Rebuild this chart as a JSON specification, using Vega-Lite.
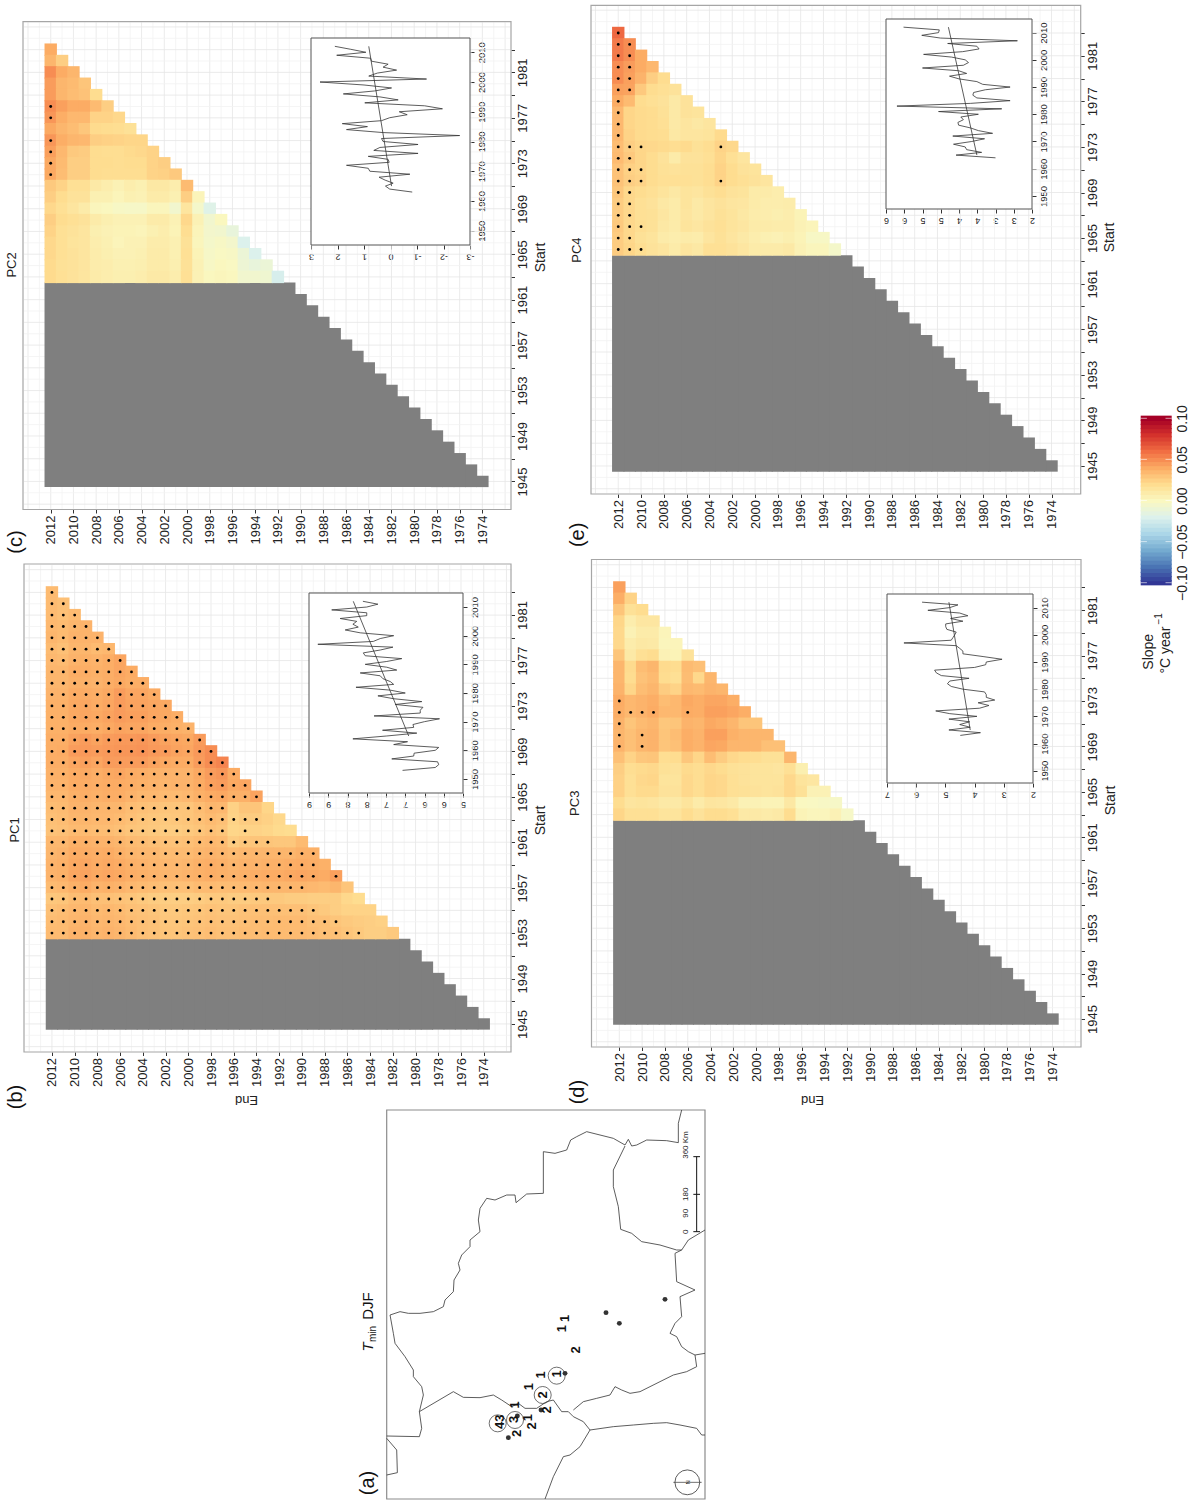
{"$schema":"https://vega.github.io/schema/vega-lite/v6.json","width":1195,"height":1503,"padding":0,"autosize":{"type":"none"},"background":"white",
"config":{"view":{"stroke":null},"font":"Liberation Sans","axis":{"grid":false,"domain":false,"tickColor":"#333333","labelColor":"#222222","titleColor":"#222222","titleFontWeight":"normal","labelFont":"Liberation Sans","titleFont":"Liberation Sans","labelOverlap":false,"labelFlush":false}},
"datasets":{
"gray":[{"e":1974,"s":1944.5,"t1":1945.5,"t2":1945.5,"t4":1945.5},{"e":1975,"s":1944.5,"t1":1946.5,"t2":1946.5,"t4":1946.5},{"e":1976,"s":1944.5,"t1":1947.5,"t2":1947.5,"t4":1947.5},{"e":1977,"s":1944.5,"t1":1948.5,"t2":1948.5,"t4":1948.5},{"e":1978,"s":1944.5,"t1":1949.5,"t2":1949.5,"t4":1949.5},{"e":1979,"s":1944.5,"t1":1950.5,"t2":1950.5,"t4":1950.5},{"e":1980,"s":1944.5,"t1":1951.5,"t2":1951.5,"t4":1951.5},{"e":1981,"s":1944.5,"t1":1952.5,"t2":1952.5,"t4":1952.5},{"e":1982,"s":1944.5,"t1":1952.5,"t2":1953.5,"t4":1953.5},{"e":1983,"s":1944.5,"t1":1952.5,"t2":1954.5,"t4":1954.5},{"e":1984,"s":1944.5,"t1":1952.5,"t2":1955.5,"t4":1955.5},{"e":1985,"s":1944.5,"t1":1952.5,"t2":1956.5,"t4":1956.5},{"e":1986,"s":1944.5,"t1":1952.5,"t2":1957.5,"t4":1957.5},{"e":1987,"s":1944.5,"t1":1952.5,"t2":1958.5,"t4":1958.5},{"e":1988,"s":1944.5,"t1":1952.5,"t2":1959.5,"t4":1959.5},{"e":1989,"s":1944.5,"t1":1952.5,"t2":1960.5,"t4":1960.5},{"e":1990,"s":1944.5,"t1":1952.5,"t2":1961.5,"t4":1961.5},{"e":1991,"s":1944.5,"t1":1952.5,"t2":1962.5,"t4":1962.5},{"e":1992,"s":1944.5,"t1":1952.5,"t2":1962.5,"t4":1963.5},{"e":1993,"s":1944.5,"t1":1952.5,"t2":1962.5,"t4":1963.5},{"e":1994,"s":1944.5,"t1":1952.5,"t2":1962.5,"t4":1963.5},{"e":1995,"s":1944.5,"t1":1952.5,"t2":1962.5,"t4":1963.5},{"e":1996,"s":1944.5,"t1":1952.5,"t2":1962.5,"t4":1963.5},{"e":1997,"s":1944.5,"t1":1952.5,"t2":1962.5,"t4":1963.5},{"e":1998,"s":1944.5,"t1":1952.5,"t2":1962.5,"t4":1963.5},{"e":1999,"s":1944.5,"t1":1952.5,"t2":1962.5,"t4":1963.5},{"e":2000,"s":1944.5,"t1":1952.5,"t2":1962.5,"t4":1963.5},{"e":2001,"s":1944.5,"t1":1952.5,"t2":1962.5,"t4":1963.5},{"e":2002,"s":1944.5,"t1":1952.5,"t2":1962.5,"t4":1963.5},{"e":2003,"s":1944.5,"t1":1952.5,"t2":1962.5,"t4":1963.5},{"e":2004,"s":1944.5,"t1":1952.5,"t2":1962.5,"t4":1963.5},{"e":2005,"s":1944.5,"t1":1952.5,"t2":1962.5,"t4":1963.5},{"e":2006,"s":1944.5,"t1":1952.5,"t2":1962.5,"t4":1963.5},{"e":2007,"s":1944.5,"t1":1952.5,"t2":1962.5,"t4":1963.5},{"e":2008,"s":1944.5,"t1":1952.5,"t2":1962.5,"t4":1963.5},{"e":2009,"s":1944.5,"t1":1952.5,"t2":1962.5,"t4":1963.5},{"e":2010,"s":1944.5,"t1":1952.5,"t2":1962.5,"t4":1963.5},{"e":2011,"s":1944.5,"t1":1952.5,"t2":1962.5,"t4":1963.5},{"e":2012,"s":1944.5,"t1":1952.5,"t2":1962.5,"t4":1963.5}],
"gv":[{"e":1972,"s":1942.6,"s2":1985.4,"m":1},{"e":1973,"s":1942.6,"s2":1985.4,"m":0},{"e":1974,"s":1942.6,"s2":1985.4,"m":1},{"e":1975,"s":1942.6,"s2":1985.4,"m":0},{"e":1976,"s":1942.6,"s2":1985.4,"m":1},{"e":1977,"s":1942.6,"s2":1985.4,"m":0},{"e":1978,"s":1942.6,"s2":1985.4,"m":1},{"e":1979,"s":1942.6,"s2":1985.4,"m":0},{"e":1980,"s":1942.6,"s2":1985.4,"m":1},{"e":1981,"s":1942.6,"s2":1985.4,"m":0},{"e":1982,"s":1942.6,"s2":1985.4,"m":1},{"e":1983,"s":1942.6,"s2":1985.4,"m":0},{"e":1984,"s":1942.6,"s2":1985.4,"m":1},{"e":1985,"s":1942.6,"s2":1985.4,"m":0},{"e":1986,"s":1942.6,"s2":1985.4,"m":1},{"e":1987,"s":1942.6,"s2":1985.4,"m":0},{"e":1988,"s":1942.6,"s2":1985.4,"m":1},{"e":1989,"s":1942.6,"s2":1985.4,"m":0},{"e":1990,"s":1942.6,"s2":1985.4,"m":1},{"e":1991,"s":1942.6,"s2":1985.4,"m":0},{"e":1992,"s":1942.6,"s2":1985.4,"m":1},{"e":1993,"s":1942.6,"s2":1985.4,"m":0},{"e":1994,"s":1942.6,"s2":1985.4,"m":1},{"e":1995,"s":1942.6,"s2":1985.4,"m":0},{"e":1996,"s":1942.6,"s2":1985.4,"m":1},{"e":1997,"s":1942.6,"s2":1985.4,"m":0},{"e":1998,"s":1942.6,"s2":1985.4,"m":1},{"e":1999,"s":1942.6,"s2":1985.4,"m":0},{"e":2000,"s":1942.6,"s2":1985.4,"m":1},{"e":2001,"s":1942.6,"s2":1985.4,"m":0},{"e":2002,"s":1942.6,"s2":1985.4,"m":1},{"e":2003,"s":1942.6,"s2":1985.4,"m":0},{"e":2004,"s":1942.6,"s2":1985.4,"m":1},{"e":2005,"s":1942.6,"s2":1985.4,"m":0},{"e":2006,"s":1942.6,"s2":1985.4,"m":1},{"e":2007,"s":1942.6,"s2":1985.4,"m":0},{"e":2008,"s":1942.6,"s2":1985.4,"m":1},{"e":2009,"s":1942.6,"s2":1985.4,"m":0},{"e":2010,"s":1942.6,"s2":1985.4,"m":1},{"e":2011,"s":1942.6,"s2":1985.4,"m":0},{"e":2012,"s":1942.6,"s2":1985.4,"m":1},{"e":2013,"s":1942.6,"s2":1985.4,"m":0},{"e":2014,"s":1942.6,"s2":1985.4,"m":1}],
"gh":[{"s":1943,"e":2014.35,"e2":1971.55,"m":1},{"s":1944,"e":2014.35,"e2":1971.55,"m":0},{"s":1945,"e":2014.35,"e2":1971.55,"m":1},{"s":1946,"e":2014.35,"e2":1971.55,"m":0},{"s":1947,"e":2014.35,"e2":1971.55,"m":1},{"s":1948,"e":2014.35,"e2":1971.55,"m":0},{"s":1949,"e":2014.35,"e2":1971.55,"m":1},{"s":1950,"e":2014.35,"e2":1971.55,"m":0},{"s":1951,"e":2014.35,"e2":1971.55,"m":1},{"s":1952,"e":2014.35,"e2":1971.55,"m":0},{"s":1953,"e":2014.35,"e2":1971.55,"m":1},{"s":1954,"e":2014.35,"e2":1971.55,"m":0},{"s":1955,"e":2014.35,"e2":1971.55,"m":1},{"s":1956,"e":2014.35,"e2":1971.55,"m":0},{"s":1957,"e":2014.35,"e2":1971.55,"m":1},{"s":1958,"e":2014.35,"e2":1971.55,"m":0},{"s":1959,"e":2014.35,"e2":1971.55,"m":1},{"s":1960,"e":2014.35,"e2":1971.55,"m":0},{"s":1961,"e":2014.35,"e2":1971.55,"m":1},{"s":1962,"e":2014.35,"e2":1971.55,"m":0},{"s":1963,"e":2014.35,"e2":1971.55,"m":1},{"s":1964,"e":2014.35,"e2":1971.55,"m":0},{"s":1965,"e":2014.35,"e2":1971.55,"m":1},{"s":1966,"e":2014.35,"e2":1971.55,"m":0},{"s":1967,"e":2014.35,"e2":1971.55,"m":1},{"s":1968,"e":2014.35,"e2":1971.55,"m":0},{"s":1969,"e":2014.35,"e2":1971.55,"m":1},{"s":1970,"e":2014.35,"e2":1971.55,"m":0},{"s":1971,"e":2014.35,"e2":1971.55,"m":1},{"s":1972,"e":2014.35,"e2":1971.55,"m":0},{"s":1973,"e":2014.35,"e2":1971.55,"m":1},{"s":1974,"e":2014.35,"e2":1971.55,"m":0},{"s":1975,"e":2014.35,"e2":1971.55,"m":1},{"s":1976,"e":2014.35,"e2":1971.55,"m":0},{"s":1977,"e":2014.35,"e2":1971.55,"m":1},{"s":1978,"e":2014.35,"e2":1971.55,"m":0},{"s":1979,"e":2014.35,"e2":1971.55,"m":1},{"s":1980,"e":2014.35,"e2":1971.55,"m":0},{"s":1981,"e":2014.35,"e2":1971.55,"m":1},{"s":1982,"e":2014.35,"e2":1971.55,"m":0},{"s":1983,"e":2014.35,"e2":1971.55,"m":1},{"s":1984,"e":2014.35,"e2":1971.55,"m":0},{"s":1985,"e":2014.35,"e2":1971.55,"m":1}],
"pc1":[
{"s":1983,"e":2012,"v":0.034},
{"s":1982,"e":2012,"v":0.034},{"s":1982,"e":2011,"v":0.032},
{"s":1981,"e":2012,"v":0.034},{"s":1981,"e":2011,"v":0.032},{"s":1981,"e":2010,"v":0.034},
{"s":1980,"e":2012,"v":0.035},{"s":1980,"e":2011,"v":0.034},{"s":1980,"e":2010,"v":0.036},{"s":1980,"e":2009,"v":0.037},
{"s":1979,"e":2012,"v":0.036},{"s":1979,"e":2011,"v":0.034},{"s":1979,"e":2010,"v":0.037},{"s":1979,"e":2009,"v":0.037},{"s":1979,"e":2008,"v":0.037},
{"s":1978,"e":2012,"v":0.034},{"s":1978,"e":2011,"v":0.032},{"s":1978,"e":2010,"v":0.036},{"s":1978,"e":2009,"v":0.036},{"s":1978,"e":2008,"v":0.034},{"s":1978,"e":2007,"v":0.035},
{"s":1977,"e":2012,"v":0.035},{"s":1977,"e":2011,"v":0.034},{"s":1977,"e":2010,"v":0.037},{"s":1977,"e":2009,"v":0.038},{"s":1977,"e":2008,"v":0.037},{"s":1977,"e":2007,"v":0.039},{"s":1977,"e":2006,"v":0.042},
{"s":1976,"e":2012,"v":0.036},{"s":1976,"e":2011,"v":0.036},{"s":1976,"e":2010,"v":0.039},{"s":1976,"e":2009,"v":0.039},{"s":1976,"e":2008,"v":0.038},{"s":1976,"e":2007,"v":0.039},{"s":1976,"e":2006,"v":0.042},{"s":1976,"e":2005,"v":0.04},
{"s":1975,"e":2012,"v":0.036},{"s":1975,"e":2011,"v":0.036},{"s":1975,"e":2010,"v":0.038},{"s":1975,"e":2009,"v":0.038},{"s":1975,"e":2008,"v":0.037},{"s":1975,"e":2007,"v":0.039},{"s":1975,"e":2006,"v":0.041},{"s":1975,"e":2005,"v":0.039},{"s":1975,"e":2004,"v":0.039},
{"s":1974,"e":2012,"v":0.037},{"s":1974,"e":2011,"v":0.037},{"s":1974,"e":2010,"v":0.04},{"s":1974,"e":2009,"v":0.04},{"s":1974,"e":2008,"v":0.039},{"s":1974,"e":2007,"v":0.041},{"s":1974,"e":2006,"v":0.045},{"s":1974,"e":2005,"v":0.042},{"s":1974,"e":2004,"v":0.042},{"s":1974,"e":2003,"v":0.04},
{"s":1973,"e":2012,"v":0.038},{"s":1973,"e":2011,"v":0.038},{"s":1973,"e":2010,"v":0.041},{"s":1973,"e":2009,"v":0.042},{"s":1973,"e":2008,"v":0.04},{"s":1973,"e":2007,"v":0.042},{"s":1973,"e":2006,"v":0.045},{"s":1973,"e":2005,"v":0.043},{"s":1973,"e":2004,"v":0.043},{"s":1973,"e":2003,"v":0.042},{"s":1973,"e":2002,"v":0.041},
{"s":1972,"e":2012,"v":0.038},{"s":1972,"e":2011,"v":0.038},{"s":1972,"e":2010,"v":0.041},{"s":1972,"e":2009,"v":0.042},{"s":1972,"e":2008,"v":0.041},{"s":1972,"e":2007,"v":0.043},{"s":1972,"e":2006,"v":0.045},{"s":1972,"e":2005,"v":0.044},{"s":1972,"e":2004,"v":0.044},{"s":1972,"e":2003,"v":0.042},{"s":1972,"e":2002,"v":0.041},{"s":1972,"e":2001,"v":0.039},
{"s":1971,"e":2012,"v":0.038},{"s":1971,"e":2011,"v":0.038},{"s":1971,"e":2010,"v":0.04},{"s":1971,"e":2009,"v":0.04},{"s":1971,"e":2008,"v":0.039},{"s":1971,"e":2007,"v":0.041},{"s":1971,"e":2006,"v":0.043},{"s":1971,"e":2005,"v":0.042},{"s":1971,"e":2004,"v":0.042},{"s":1971,"e":2003,"v":0.04},{"s":1971,"e":2002,"v":0.039},{"s":1971,"e":2001,"v":0.038},{"s":1971,"e":2000,"v":0.037},
{"s":1970,"e":2012,"v":0.039},{"s":1970,"e":2011,"v":0.039},{"s":1970,"e":2010,"v":0.043},{"s":1970,"e":2009,"v":0.045},{"s":1970,"e":2008,"v":0.043},{"s":1970,"e":2007,"v":0.045},{"s":1970,"e":2006,"v":0.046},{"s":1970,"e":2005,"v":0.046},{"s":1970,"e":2004,"v":0.047},{"s":1970,"e":2003,"v":0.045},{"s":1970,"e":2002,"v":0.043},{"s":1970,"e":2001,"v":0.042},{"s":1970,"e":2000,"v":0.041},{"s":1970,"e":1999,"v":0.045},
{"s":1969,"e":2012,"v":0.039},{"s":1969,"e":2011,"v":0.04},{"s":1969,"e":2010,"v":0.045},{"s":1969,"e":2009,"v":0.046},{"s":1969,"e":2008,"v":0.045},{"s":1969,"e":2007,"v":0.046},{"s":1969,"e":2006,"v":0.047},{"s":1969,"e":2005,"v":0.047},{"s":1969,"e":2004,"v":0.048},{"s":1969,"e":2003,"v":0.046},{"s":1969,"e":2002,"v":0.045},{"s":1969,"e":2001,"v":0.043},{"s":1969,"e":2000,"v":0.042},{"s":1969,"e":1999,"v":0.046},{"s":1969,"e":1998,"v":0.05},
{"s":1968,"e":2012,"v":0.039},{"s":1968,"e":2011,"v":0.039},{"s":1968,"e":2010,"v":0.042},{"s":1968,"e":2009,"v":0.044},{"s":1968,"e":2008,"v":0.042},{"s":1968,"e":2007,"v":0.045},{"s":1968,"e":2006,"v":0.045},{"s":1968,"e":2005,"v":0.045},{"s":1968,"e":2004,"v":0.045},{"s":1968,"e":2003,"v":0.043},{"s":1968,"e":2002,"v":0.041},{"s":1968,"e":2001,"v":0.04},{"s":1968,"e":2000,"v":0.04},{"s":1968,"e":1999,"v":0.045},{"s":1968,"e":1998,"v":0.05},{"s":1968,"e":1997,"v":0.053},
{"s":1967,"e":2012,"v":0.038},{"s":1967,"e":2011,"v":0.038},{"s":1967,"e":2010,"v":0.04},{"s":1967,"e":2009,"v":0.041},{"s":1967,"e":2008,"v":0.039},{"s":1967,"e":2007,"v":0.041},{"s":1967,"e":2006,"v":0.042},{"s":1967,"e":2005,"v":0.04},{"s":1967,"e":2004,"v":0.039},{"s":1967,"e":2003,"v":0.038},{"s":1967,"e":2002,"v":0.037},{"s":1967,"e":2001,"v":0.037},{"s":1967,"e":2000,"v":0.037},{"s":1967,"e":1999,"v":0.041},{"s":1967,"e":1998,"v":0.045},{"s":1967,"e":1997,"v":0.047},{"s":1967,"e":1996,"v":0.04},
{"s":1966,"e":2012,"v":0.037},{"s":1966,"e":2011,"v":0.037},{"s":1966,"e":2010,"v":0.04},{"s":1966,"e":2009,"v":0.04},{"s":1966,"e":2008,"v":0.039},{"s":1966,"e":2007,"v":0.04},{"s":1966,"e":2006,"v":0.04},{"s":1966,"e":2005,"v":0.039},{"s":1966,"e":2004,"v":0.038},{"s":1966,"e":2003,"v":0.037},{"s":1966,"e":2002,"v":0.036},{"s":1966,"e":2001,"v":0.037},{"s":1966,"e":2000,"v":0.037},{"s":1966,"e":1999,"v":0.04},{"s":1966,"e":1998,"v":0.044},{"s":1966,"e":1997,"v":0.045},{"s":1966,"e":1996,"v":0.041},{"s":1966,"e":1995,"v":0.042},
{"s":1965,"e":2012,"v":0.035},{"s":1965,"e":2011,"v":0.035},{"s":1965,"e":2010,"v":0.038},{"s":1965,"e":2009,"v":0.039},{"s":1965,"e":2008,"v":0.038},{"s":1965,"e":2007,"v":0.039},{"s":1965,"e":2006,"v":0.039},{"s":1965,"e":2005,"v":0.037},{"s":1965,"e":2004,"v":0.035},{"s":1965,"e":2003,"v":0.035},{"s":1965,"e":2002,"v":0.034},{"s":1965,"e":2001,"v":0.034},{"s":1965,"e":2000,"v":0.035},{"s":1965,"e":1999,"v":0.038},{"s":1965,"e":1998,"v":0.04},{"s":1965,"e":1997,"v":0.041},{"s":1965,"e":1996,"v":0.038},{"s":1965,"e":1995,"v":0.038},{"s":1965,"e":1994,"v":0.043},
{"s":1964,"e":2012,"v":0.033},{"s":1964,"e":2011,"v":0.034},{"s":1964,"e":2010,"v":0.037},{"s":1964,"e":2009,"v":0.037},{"s":1964,"e":2008,"v":0.036},{"s":1964,"e":2007,"v":0.036},{"s":1964,"e":2006,"v":0.036},{"s":1964,"e":2005,"v":0.033},{"s":1964,"e":2004,"v":0.032},{"s":1964,"e":2003,"v":0.031},{"s":1964,"e":2002,"v":0.03},{"s":1964,"e":2001,"v":0.03},{"s":1964,"e":2000,"v":0.03},{"s":1964,"e":1999,"v":0.033},{"s":1964,"e":1998,"v":0.036},{"s":1964,"e":1997,"v":0.035},{"s":1964,"e":1996,"v":0.025,"ns":1},{"s":1964,"e":1995,"v":0.03,"ns":1},{"s":1964,"e":1994,"v":0.03,"ns":1},{"s":1964,"e":1993,"v":0.023,"ns":1},
{"s":1963,"e":2012,"v":0.032},{"s":1963,"e":2011,"v":0.033},{"s":1963,"e":2010,"v":0.036},{"s":1963,"e":2009,"v":0.036},{"s":1963,"e":2008,"v":0.035},{"s":1963,"e":2007,"v":0.035},{"s":1963,"e":2006,"v":0.034},{"s":1963,"e":2005,"v":0.032},{"s":1963,"e":2004,"v":0.03},{"s":1963,"e":2003,"v":0.029},{"s":1963,"e":2002,"v":0.028},{"s":1963,"e":2001,"v":0.029},{"s":1963,"e":2000,"v":0.03},{"s":1963,"e":1999,"v":0.032},{"s":1963,"e":1998,"v":0.034},{"s":1963,"e":1997,"v":0.032},{"s":1963,"e":1996,"v":0.024},{"s":1963,"e":1995,"v":0.027},{"s":1963,"e":1994,"v":0.027},{"s":1963,"e":1993,"v":0.025,"ns":1},{"s":1963,"e":1992,"v":0.022,"ns":1},
{"s":1962,"e":2012,"v":0.031},{"s":1962,"e":2011,"v":0.032},{"s":1962,"e":2010,"v":0.034},{"s":1962,"e":2009,"v":0.034},{"s":1962,"e":2008,"v":0.033},{"s":1962,"e":2007,"v":0.033},{"s":1962,"e":2006,"v":0.032},{"s":1962,"e":2005,"v":0.03},{"s":1962,"e":2004,"v":0.029},{"s":1962,"e":2003,"v":0.028},{"s":1962,"e":2002,"v":0.027},{"s":1962,"e":2001,"v":0.027},{"s":1962,"e":2000,"v":0.028},{"s":1962,"e":1999,"v":0.03},{"s":1962,"e":1998,"v":0.032},{"s":1962,"e":1997,"v":0.03},{"s":1962,"e":1996,"v":0.023,"ns":1},{"s":1962,"e":1995,"v":0.024},{"s":1962,"e":1994,"v":0.024,"ns":1},{"s":1962,"e":1993,"v":0.023,"ns":1},{"s":1962,"e":1992,"v":0.021,"ns":1},{"s":1962,"e":1991,"v":0.02,"ns":1},
{"s":1961,"e":2012,"v":0.035},{"s":1961,"e":2011,"v":0.035},{"s":1961,"e":2010,"v":0.038},{"s":1961,"e":2009,"v":0.038},{"s":1961,"e":2008,"v":0.037},{"s":1961,"e":2007,"v":0.037},{"s":1961,"e":2006,"v":0.036},{"s":1961,"e":2005,"v":0.034},{"s":1961,"e":2004,"v":0.033},{"s":1961,"e":2003,"v":0.032},{"s":1961,"e":2002,"v":0.031},{"s":1961,"e":2001,"v":0.031},{"s":1961,"e":2000,"v":0.032},{"s":1961,"e":1999,"v":0.034},{"s":1961,"e":1998,"v":0.035},{"s":1961,"e":1997,"v":0.034},{"s":1961,"e":1996,"v":0.027},{"s":1961,"e":1995,"v":0.029},{"s":1961,"e":1994,"v":0.03},{"s":1961,"e":1993,"v":0.03},{"s":1961,"e":1992,"v":0.029,"ns":1},{"s":1961,"e":1991,"v":0.029,"ns":1},{"s":1961,"e":1990,"v":0.034,"ns":1},
{"s":1960,"e":2012,"v":0.036},{"s":1960,"e":2011,"v":0.037},{"s":1960,"e":2010,"v":0.04},{"s":1960,"e":2009,"v":0.04},{"s":1960,"e":2008,"v":0.039},{"s":1960,"e":2007,"v":0.04},{"s":1960,"e":2006,"v":0.038},{"s":1960,"e":2005,"v":0.036},{"s":1960,"e":2004,"v":0.035},{"s":1960,"e":2003,"v":0.035},{"s":1960,"e":2002,"v":0.033},{"s":1960,"e":2001,"v":0.034},{"s":1960,"e":2000,"v":0.034},{"s":1960,"e":1999,"v":0.036},{"s":1960,"e":1998,"v":0.037},{"s":1960,"e":1997,"v":0.036},{"s":1960,"e":1996,"v":0.034},{"s":1960,"e":1995,"v":0.035},{"s":1960,"e":1994,"v":0.036},{"s":1960,"e":1993,"v":0.036},{"s":1960,"e":1992,"v":0.036},{"s":1960,"e":1991,"v":0.036},{"s":1960,"e":1990,"v":0.038},{"s":1960,"e":1989,"v":0.038},
{"s":1959,"e":2012,"v":0.037},{"s":1959,"e":2011,"v":0.038},{"s":1959,"e":2010,"v":0.041},{"s":1959,"e":2009,"v":0.042},{"s":1959,"e":2008,"v":0.04},{"s":1959,"e":2007,"v":0.041},{"s":1959,"e":2006,"v":0.04},{"s":1959,"e":2005,"v":0.038},{"s":1959,"e":2004,"v":0.037},{"s":1959,"e":2003,"v":0.036},{"s":1959,"e":2002,"v":0.035},{"s":1959,"e":2001,"v":0.035},{"s":1959,"e":2000,"v":0.036},{"s":1959,"e":1999,"v":0.038},{"s":1959,"e":1998,"v":0.039},{"s":1959,"e":1997,"v":0.038},{"s":1959,"e":1996,"v":0.036},{"s":1959,"e":1995,"v":0.037},{"s":1959,"e":1994,"v":0.037},{"s":1959,"e":1993,"v":0.038},{"s":1959,"e":1992,"v":0.038},{"s":1959,"e":1991,"v":0.039},{"s":1959,"e":1990,"v":0.04},{"s":1959,"e":1989,"v":0.039},{"s":1959,"e":1988,"v":0.038,"ns":1},
{"s":1958,"e":2012,"v":0.037},{"s":1958,"e":2011,"v":0.038},{"s":1958,"e":2010,"v":0.042},{"s":1958,"e":2009,"v":0.043},{"s":1958,"e":2008,"v":0.041},{"s":1958,"e":2007,"v":0.042},{"s":1958,"e":2006,"v":0.041},{"s":1958,"e":2005,"v":0.039},{"s":1958,"e":2004,"v":0.038},{"s":1958,"e":2003,"v":0.037},{"s":1958,"e":2002,"v":0.036},{"s":1958,"e":2001,"v":0.036},{"s":1958,"e":2000,"v":0.037},{"s":1958,"e":1999,"v":0.038},{"s":1958,"e":1998,"v":0.039},{"s":1958,"e":1997,"v":0.038},{"s":1958,"e":1996,"v":0.037},{"s":1958,"e":1995,"v":0.038},{"s":1958,"e":1994,"v":0.039},{"s":1958,"e":1993,"v":0.04},{"s":1958,"e":1992,"v":0.04},{"s":1958,"e":1991,"v":0.041},{"s":1958,"e":1990,"v":0.042},{"s":1958,"e":1989,"v":0.041},{"s":1958,"e":1988,"v":0.04,"ns":1},{"s":1958,"e":1987,"v":0.044},
{"s":1957,"e":2012,"v":0.034},{"s":1957,"e":2011,"v":0.035},{"s":1957,"e":2010,"v":0.038},{"s":1957,"e":2009,"v":0.04},{"s":1957,"e":2008,"v":0.037},{"s":1957,"e":2007,"v":0.038},{"s":1957,"e":2006,"v":0.037},{"s":1957,"e":2005,"v":0.035},{"s":1957,"e":2004,"v":0.034},{"s":1957,"e":2003,"v":0.033},{"s":1957,"e":2002,"v":0.032},{"s":1957,"e":2001,"v":0.032},{"s":1957,"e":2000,"v":0.032},{"s":1957,"e":1999,"v":0.034},{"s":1957,"e":1998,"v":0.034},{"s":1957,"e":1997,"v":0.033},{"s":1957,"e":1996,"v":0.033},{"s":1957,"e":1995,"v":0.034},{"s":1957,"e":1994,"v":0.035},{"s":1957,"e":1993,"v":0.036},{"s":1957,"e":1992,"v":0.036},{"s":1957,"e":1991,"v":0.036},{"s":1957,"e":1990,"v":0.036},{"s":1957,"e":1989,"v":0.035,"ns":1},{"s":1957,"e":1988,"v":0.034,"ns":1},{"s":1957,"e":1987,"v":0.036,"ns":1},{"s":1957,"e":1986,"v":0.03,"ns":1},
{"s":1956,"e":2012,"v":0.029},{"s":1956,"e":2011,"v":0.03},{"s":1956,"e":2010,"v":0.033},{"s":1956,"e":2009,"v":0.034},{"s":1956,"e":2008,"v":0.032},{"s":1956,"e":2007,"v":0.032},{"s":1956,"e":2006,"v":0.031},{"s":1956,"e":2005,"v":0.03},{"s":1956,"e":2004,"v":0.028},{"s":1956,"e":2003,"v":0.027},{"s":1956,"e":2002,"v":0.026},{"s":1956,"e":2001,"v":0.026},{"s":1956,"e":2000,"v":0.026},{"s":1956,"e":1999,"v":0.027},{"s":1956,"e":1998,"v":0.028},{"s":1956,"e":1997,"v":0.028},{"s":1956,"e":1996,"v":0.027},{"s":1956,"e":1995,"v":0.027},{"s":1956,"e":1994,"v":0.028},{"s":1956,"e":1993,"v":0.028},{"s":1956,"e":1992,"v":0.028,"ns":1},{"s":1956,"e":1991,"v":0.027,"ns":1},{"s":1956,"e":1990,"v":0.027,"ns":1},{"s":1956,"e":1989,"v":0.026,"ns":1},{"s":1956,"e":1988,"v":0.026,"ns":1},{"s":1956,"e":1987,"v":0.026,"ns":1},{"s":1956,"e":1986,"v":0.022,"ns":1},{"s":1956,"e":1985,"v":0.02,"ns":1},
{"s":1955,"e":2012,"v":0.032},{"s":1955,"e":2011,"v":0.033},{"s":1955,"e":2010,"v":0.035},{"s":1955,"e":2009,"v":0.036},{"s":1955,"e":2008,"v":0.034},{"s":1955,"e":2007,"v":0.035},{"s":1955,"e":2006,"v":0.034},{"s":1955,"e":2005,"v":0.032},{"s":1955,"e":2004,"v":0.031},{"s":1955,"e":2003,"v":0.03},{"s":1955,"e":2002,"v":0.028},{"s":1955,"e":2001,"v":0.028},{"s":1955,"e":2000,"v":0.029},{"s":1955,"e":1999,"v":0.03},{"s":1955,"e":1998,"v":0.031},{"s":1955,"e":1997,"v":0.03},{"s":1955,"e":1996,"v":0.03},{"s":1955,"e":1995,"v":0.031},{"s":1955,"e":1994,"v":0.032},{"s":1955,"e":1993,"v":0.032},{"s":1955,"e":1992,"v":0.032},{"s":1955,"e":1991,"v":0.032},{"s":1955,"e":1990,"v":0.032},{"s":1955,"e":1989,"v":0.03},{"s":1955,"e":1988,"v":0.028,"ns":1},{"s":1955,"e":1987,"v":0.026,"ns":1},{"s":1955,"e":1986,"v":0.024,"ns":1},{"s":1955,"e":1985,"v":0.024,"ns":1},{"s":1955,"e":1984,"v":0.024,"ns":1},
{"s":1954,"e":2012,"v":0.033},{"s":1954,"e":2011,"v":0.034},{"s":1954,"e":2010,"v":0.036},{"s":1954,"e":2009,"v":0.037},{"s":1954,"e":2008,"v":0.035},{"s":1954,"e":2007,"v":0.036},{"s":1954,"e":2006,"v":0.035},{"s":1954,"e":2005,"v":0.033},{"s":1954,"e":2004,"v":0.032},{"s":1954,"e":2003,"v":0.031},{"s":1954,"e":2002,"v":0.029},{"s":1954,"e":2001,"v":0.029},{"s":1954,"e":2000,"v":0.03},{"s":1954,"e":1999,"v":0.031},{"s":1954,"e":1998,"v":0.032},{"s":1954,"e":1997,"v":0.031},{"s":1954,"e":1996,"v":0.031},{"s":1954,"e":1995,"v":0.032},{"s":1954,"e":1994,"v":0.033},{"s":1954,"e":1993,"v":0.033},{"s":1954,"e":1992,"v":0.034},{"s":1954,"e":1991,"v":0.034},{"s":1954,"e":1990,"v":0.034},{"s":1954,"e":1989,"v":0.032},{"s":1954,"e":1988,"v":0.032},{"s":1954,"e":1987,"v":0.03},{"s":1954,"e":1986,"v":0.028,"ns":1},{"s":1954,"e":1985,"v":0.027,"ns":1},{"s":1954,"e":1984,"v":0.026,"ns":1},{"s":1954,"e":1983,"v":0.025,"ns":1},
{"s":1953,"e":2012,"v":0.034},{"s":1953,"e":2011,"v":0.034},{"s":1953,"e":2010,"v":0.037},{"s":1953,"e":2009,"v":0.038},{"s":1953,"e":2008,"v":0.036},{"s":1953,"e":2007,"v":0.037},{"s":1953,"e":2006,"v":0.036},{"s":1953,"e":2005,"v":0.034},{"s":1953,"e":2004,"v":0.032},{"s":1953,"e":2003,"v":0.031},{"s":1953,"e":2002,"v":0.03},{"s":1953,"e":2001,"v":0.03},{"s":1953,"e":2000,"v":0.031},{"s":1953,"e":1999,"v":0.032},{"s":1953,"e":1998,"v":0.033},{"s":1953,"e":1997,"v":0.032},{"s":1953,"e":1996,"v":0.032},{"s":1953,"e":1995,"v":0.033},{"s":1953,"e":1994,"v":0.033},{"s":1953,"e":1993,"v":0.034},{"s":1953,"e":1992,"v":0.034},{"s":1953,"e":1991,"v":0.034},{"s":1953,"e":1990,"v":0.034},{"s":1953,"e":1989,"v":0.033},{"s":1953,"e":1988,"v":0.032},{"s":1953,"e":1987,"v":0.032},{"s":1953,"e":1986,"v":0.03},{"s":1953,"e":1985,"v":0.028},{"s":1953,"e":1984,"v":0.026,"ns":1},{"s":1953,"e":1983,"v":0.026,"ns":1},{"s":1953,"e":1982,"v":0.028,"ns":1}],
"pc2":[
{"s":1983,"e":2012,"v":0.04},
{"s":1982,"e":2012,"v":0.036},{"s":1982,"e":2011,"v":0.026},
{"s":1981,"e":2012,"v":0.05},{"s":1981,"e":2011,"v":0.04},{"s":1981,"e":2010,"v":0.036},
{"s":1980,"e":2012,"v":0.045},{"s":1980,"e":2011,"v":0.036},{"s":1980,"e":2010,"v":0.034},{"s":1980,"e":2009,"v":0.03},
{"s":1979,"e":2012,"v":0.045},{"s":1979,"e":2011,"v":0.036},{"s":1979,"e":2010,"v":0.033},{"s":1979,"e":2009,"v":0.031},{"s":1979,"e":2008,"v":0.02},
{"s":1978,"e":2012,"v":0.05,"d":1},{"s":1978,"e":2011,"v":0.044},{"s":1978,"e":2010,"v":0.04},{"s":1978,"e":2009,"v":0.04},{"s":1978,"e":2008,"v":0.034},{"s":1978,"e":2007,"v":0.026},
{"s":1977,"e":2012,"v":0.047,"d":1},{"s":1977,"e":2011,"v":0.039},{"s":1977,"e":2010,"v":0.035},{"s":1977,"e":2009,"v":0.035},{"s":1977,"e":2008,"v":0.024},{"s":1977,"e":2007,"v":0.024},{"s":1977,"e":2006,"v":0.022},
{"s":1976,"e":2012,"v":0.041},{"s":1976,"e":2011,"v":0.036},{"s":1976,"e":2010,"v":0.033},{"s":1976,"e":2009,"v":0.029},{"s":1976,"e":2008,"v":0.021},{"s":1976,"e":2007,"v":0.02},{"s":1976,"e":2006,"v":0.019},{"s":1976,"e":2005,"v":0.017},
{"s":1975,"e":2012,"v":0.047,"d":1},{"s":1975,"e":2011,"v":0.039},{"s":1975,"e":2010,"v":0.036},{"s":1975,"e":2009,"v":0.035},{"s":1975,"e":2008,"v":0.026},{"s":1975,"e":2007,"v":0.025},{"s":1975,"e":2006,"v":0.024},{"s":1975,"e":2005,"v":0.023},{"s":1975,"e":2004,"v":0.023},
{"s":1974,"e":2012,"v":0.044,"d":1},{"s":1974,"e":2011,"v":0.035},{"s":1974,"e":2010,"v":0.028},{"s":1974,"e":2009,"v":0.027},{"s":1974,"e":2008,"v":0.02},{"s":1974,"e":2007,"v":0.019},{"s":1974,"e":2006,"v":0.019},{"s":1974,"e":2005,"v":0.021},{"s":1974,"e":2004,"v":0.022},{"s":1974,"e":2003,"v":0.024},
{"s":1973,"e":2012,"v":0.041,"d":1},{"s":1973,"e":2011,"v":0.034},{"s":1973,"e":2010,"v":0.026},{"s":1973,"e":2009,"v":0.026},{"s":1973,"e":2008,"v":0.02},{"s":1973,"e":2007,"v":0.02},{"s":1973,"e":2006,"v":0.019},{"s":1973,"e":2005,"v":0.02},{"s":1973,"e":2004,"v":0.02},{"s":1973,"e":2003,"v":0.024},{"s":1973,"e":2002,"v":0.026},
{"s":1972,"e":2012,"v":0.041,"d":1},{"s":1972,"e":2011,"v":0.033},{"s":1972,"e":2010,"v":0.026},{"s":1972,"e":2009,"v":0.026},{"s":1972,"e":2008,"v":0.02},{"s":1972,"e":2007,"v":0.019},{"s":1972,"e":2006,"v":0.019},{"s":1972,"e":2005,"v":0.019},{"s":1972,"e":2004,"v":0.019},{"s":1972,"e":2003,"v":0.024},{"s":1972,"e":2002,"v":0.025},{"s":1972,"e":2001,"v":0.028},
{"s":1971,"e":2012,"v":0.028},{"s":1971,"e":2011,"v":0.024},{"s":1971,"e":2010,"v":0.018},{"s":1971,"e":2009,"v":0.018},{"s":1971,"e":2008,"v":0.011},{"s":1971,"e":2007,"v":0.008},{"s":1971,"e":2006,"v":0.005},{"s":1971,"e":2005,"v":0.008},{"s":1971,"e":2004,"v":0.006},{"s":1971,"e":2003,"v":0.012},{"s":1971,"e":2002,"v":0.012},{"s":1971,"e":2001,"v":0.008},{"s":1971,"e":2000,"v":0.034},
{"s":1970,"e":2012,"v":0.026},{"s":1970,"e":2011,"v":0.02},{"s":1970,"e":2010,"v":0.016},{"s":1970,"e":2009,"v":0.016},{"s":1970,"e":2008,"v":0.006},{"s":1970,"e":2007,"v":0.006},{"s":1970,"e":2006,"v":0.003},{"s":1970,"e":2005,"v":0.006},{"s":1970,"e":2004,"v":0.005},{"s":1970,"e":2003,"v":0.01},{"s":1970,"e":2002,"v":0.01},{"s":1970,"e":2001,"v":0.006},{"s":1970,"e":2000,"v":0.026},{"s":1970,"e":1999,"v":0.003},
{"s":1969,"e":2012,"v":0.022},{"s":1969,"e":2011,"v":0.018},{"s":1969,"e":2010,"v":0.014},{"s":1969,"e":2009,"v":0.01},{"s":1969,"e":2008,"v":0.002},{"s":1969,"e":2007,"v":0.001},{"s":1969,"e":2006,"v":-0.002},{"s":1969,"e":2005,"v":-0.003},{"s":1969,"e":2004,"v":-0.003},{"s":1969,"e":2003,"v":0.002},{"s":1969,"e":2002,"v":0.002},{"s":1969,"e":2001,"v":-0.006},{"s":1969,"e":2000,"v":0.014},{"s":1969,"e":1999,"v":-0.004},{"s":1969,"e":1998,"v":-0.018},
{"s":1968,"e":2012,"v":0.026},{"s":1968,"e":2011,"v":0.02},{"s":1968,"e":2010,"v":0.018},{"s":1968,"e":2009,"v":0.016},{"s":1968,"e":2008,"v":0.01},{"s":1968,"e":2007,"v":0.007},{"s":1968,"e":2006,"v":0.005},{"s":1968,"e":2005,"v":0.005},{"s":1968,"e":2004,"v":0.005},{"s":1968,"e":2003,"v":0.01},{"s":1968,"e":2002,"v":0.01},{"s":1968,"e":2001,"v":0.005},{"s":1968,"e":2000,"v":0.022},{"s":1968,"e":1999,"v":0.005},{"s":1968,"e":1998,"v":-0.006},{"s":1968,"e":1997,"v":0.001},
{"s":1967,"e":2012,"v":0.024},{"s":1967,"e":2011,"v":0.018},{"s":1967,"e":2010,"v":0.016},{"s":1967,"e":2009,"v":0.014},{"s":1967,"e":2008,"v":0.007},{"s":1967,"e":2007,"v":0.005},{"s":1967,"e":2006,"v":0.004},{"s":1967,"e":2005,"v":0.004},{"s":1967,"e":2004,"v":0.003},{"s":1967,"e":2003,"v":0.006},{"s":1967,"e":2002,"v":0.008},{"s":1967,"e":2001,"v":0.004},{"s":1967,"e":2000,"v":0.019},{"s":1967,"e":1999,"v":0.003},{"s":1967,"e":1998,"v":-0.005},{"s":1967,"e":1997,"v":-0.006},{"s":1967,"e":1996,"v":-0.012},
{"s":1966,"e":2012,"v":0.022},{"s":1966,"e":2011,"v":0.018},{"s":1966,"e":2010,"v":0.015},{"s":1966,"e":2009,"v":0.014},{"s":1966,"e":2008,"v":0.008},{"s":1966,"e":2007,"v":0.006},{"s":1966,"e":2006,"v":0.003},{"s":1966,"e":2005,"v":0.005},{"s":1966,"e":2004,"v":0.005},{"s":1966,"e":2003,"v":0.009},{"s":1966,"e":2002,"v":0.009},{"s":1966,"e":2001,"v":0.006},{"s":1966,"e":2000,"v":0.017},{"s":1966,"e":1999,"v":0.002},{"s":1966,"e":1998,"v":-0.004},{"s":1966,"e":1997,"v":-0.002},{"s":1966,"e":1996,"v":-0.005},{"s":1966,"e":1995,"v":-0.02},
{"s":1965,"e":2012,"v":0.022},{"s":1965,"e":2011,"v":0.018},{"s":1965,"e":2010,"v":0.016},{"s":1965,"e":2009,"v":0.014},{"s":1965,"e":2008,"v":0.009},{"s":1965,"e":2007,"v":0.007},{"s":1965,"e":2006,"v":0.005},{"s":1965,"e":2005,"v":0.005},{"s":1965,"e":2004,"v":0.006},{"s":1965,"e":2003,"v":0.01},{"s":1965,"e":2002,"v":0.01},{"s":1965,"e":2001,"v":0.006},{"s":1965,"e":2000,"v":0.018},{"s":1965,"e":1999,"v":0.004},{"s":1965,"e":1998,"v":-0.003},{"s":1965,"e":1997,"v":-0.001},{"s":1965,"e":1996,"v":-0.002},{"s":1965,"e":1995,"v":-0.01},{"s":1965,"e":1994,"v":-0.02},
{"s":1964,"e":2012,"v":0.021},{"s":1964,"e":2011,"v":0.017},{"s":1964,"e":2010,"v":0.016},{"s":1964,"e":2009,"v":0.014},{"s":1964,"e":2008,"v":0.009},{"s":1964,"e":2007,"v":0.008},{"s":1964,"e":2006,"v":0.006},{"s":1964,"e":2005,"v":0.006},{"s":1964,"e":2004,"v":0.007},{"s":1964,"e":2003,"v":0.01},{"s":1964,"e":2002,"v":0.01},{"s":1964,"e":2001,"v":0.007},{"s":1964,"e":2000,"v":0.017},{"s":1964,"e":1999,"v":0.005},{"s":1964,"e":1998,"v":-0.002},{"s":1964,"e":1997,"v":0.001},{"s":1964,"e":1996,"v":-0.001},{"s":1964,"e":1995,"v":-0.009},{"s":1964,"e":1994,"v":-0.012},{"s":1964,"e":1993,"v":-0.01},
{"s":1963,"e":2012,"v":0.021},{"s":1963,"e":2011,"v":0.018},{"s":1963,"e":2010,"v":0.016},{"s":1963,"e":2009,"v":0.014},{"s":1963,"e":2008,"v":0.01},{"s":1963,"e":2007,"v":0.008},{"s":1963,"e":2006,"v":0.007},{"s":1963,"e":2005,"v":0.007},{"s":1963,"e":2004,"v":0.008},{"s":1963,"e":2003,"v":0.011},{"s":1963,"e":2002,"v":0.011},{"s":1963,"e":2001,"v":0.008},{"s":1963,"e":2000,"v":0.018},{"s":1963,"e":1999,"v":0.005},{"s":1963,"e":1998,"v":0.001},{"s":1963,"e":1997,"v":0.002},{"s":1963,"e":1996,"v":0.001},{"s":1963,"e":1995,"v":-0.006},{"s":1963,"e":1994,"v":-0.006},{"s":1963,"e":1993,"v":-0.007},{"s":1963,"e":1992,"v":-0.022}],
"pc3":[
{"s":1983,"e":2012,"v":0.044},
{"s":1982,"e":2012,"v":0.039},{"s":1982,"e":2011,"v":0.024},
{"s":1981,"e":2012,"v":0.03},{"s":1981,"e":2011,"v":0.017},{"s":1981,"e":2010,"v":0.02},
{"s":1980,"e":2012,"v":0.023},{"s":1980,"e":2011,"v":0.008},{"s":1980,"e":2010,"v":0.013},{"s":1980,"e":2009,"v":0.013},
{"s":1979,"e":2012,"v":0.022},{"s":1979,"e":2011,"v":0.005},{"s":1979,"e":2010,"v":0.01},{"s":1979,"e":2009,"v":0.01},{"s":1979,"e":2008,"v":0.003},
{"s":1978,"e":2012,"v":0.022},{"s":1978,"e":2011,"v":0.009},{"s":1978,"e":2010,"v":0.012},{"s":1978,"e":2009,"v":0.011},{"s":1978,"e":2008,"v":0.002},{"s":1978,"e":2007,"v":0.003},
{"s":1977,"e":2012,"v":0.03},{"s":1977,"e":2011,"v":0.011},{"s":1977,"e":2010,"v":0.018},{"s":1977,"e":2009,"v":0.02},{"s":1977,"e":2008,"v":0.005},{"s":1977,"e":2007,"v":0.004},{"s":1977,"e":2006,"v":0.016},
{"s":1976,"e":2012,"v":0.036},{"s":1976,"e":2011,"v":0.021},{"s":1976,"e":2010,"v":0.033},{"s":1976,"e":2009,"v":0.036},{"s":1976,"e":2008,"v":0.021},{"s":1976,"e":2007,"v":0.02},{"s":1976,"e":2006,"v":0.034},{"s":1976,"e":2005,"v":0.032},
{"s":1975,"e":2012,"v":0.036},{"s":1975,"e":2011,"v":0.02},{"s":1975,"e":2010,"v":0.031},{"s":1975,"e":2009,"v":0.034},{"s":1975,"e":2008,"v":0.02},{"s":1975,"e":2007,"v":0.018},{"s":1975,"e":2006,"v":0.033},{"s":1975,"e":2005,"v":0.022},{"s":1975,"e":2004,"v":0.036},
{"s":1974,"e":2012,"v":0.037},{"s":1974,"e":2011,"v":0.023},{"s":1974,"e":2010,"v":0.033},{"s":1974,"e":2009,"v":0.036},{"s":1974,"e":2008,"v":0.027},{"s":1974,"e":2007,"v":0.024},{"s":1974,"e":2006,"v":0.035},{"s":1974,"e":2005,"v":0.034},{"s":1974,"e":2004,"v":0.037},{"s":1974,"e":2003,"v":0.036},
{"s":1973,"e":2012,"v":0.04,"d":1},{"s":1973,"e":2011,"v":0.035},{"s":1973,"e":2010,"v":0.037},{"s":1973,"e":2009,"v":0.039},{"s":1973,"e":2008,"v":0.033},{"s":1973,"e":2007,"v":0.035},{"s":1973,"e":2006,"v":0.041},{"s":1973,"e":2005,"v":0.039},{"s":1973,"e":2004,"v":0.042},{"s":1973,"e":2003,"v":0.042},{"s":1973,"e":2002,"v":0.039},
{"s":1972,"e":2012,"v":0.039,"d":1},{"s":1972,"e":2011,"v":0.035,"d":1},{"s":1972,"e":2010,"v":0.037,"d":1},{"s":1972,"e":2009,"v":0.04,"d":1},{"s":1972,"e":2008,"v":0.035},{"s":1972,"e":2007,"v":0.035},{"s":1972,"e":2006,"v":0.04,"d":1},{"s":1972,"e":2005,"v":0.039},{"s":1972,"e":2004,"v":0.044},{"s":1972,"e":2003,"v":0.044},{"s":1972,"e":2002,"v":0.042},{"s":1972,"e":2001,"v":0.039},
{"s":1971,"e":2012,"v":0.037,"d":1},{"s":1971,"e":2011,"v":0.03},{"s":1971,"e":2010,"v":0.034},{"s":1971,"e":2009,"v":0.036},{"s":1971,"e":2008,"v":0.029},{"s":1971,"e":2007,"v":0.03},{"s":1971,"e":2006,"v":0.037},{"s":1971,"e":2005,"v":0.036},{"s":1971,"e":2004,"v":0.041},{"s":1971,"e":2003,"v":0.039},{"s":1971,"e":2002,"v":0.036},{"s":1971,"e":2001,"v":0.03},{"s":1971,"e":2000,"v":0.03},
{"s":1970,"e":2012,"v":0.036,"d":1},{"s":1970,"e":2011,"v":0.032},{"s":1970,"e":2010,"v":0.036,"d":1},{"s":1970,"e":2009,"v":0.037},{"s":1970,"e":2008,"v":0.03},{"s":1970,"e":2007,"v":0.033},{"s":1970,"e":2006,"v":0.039},{"s":1970,"e":2005,"v":0.037},{"s":1970,"e":2004,"v":0.044},{"s":1970,"e":2003,"v":0.044},{"s":1970,"e":2002,"v":0.038},{"s":1970,"e":2001,"v":0.036},{"s":1970,"e":2000,"v":0.036},{"s":1970,"e":1999,"v":0.036},
{"s":1969,"e":2012,"v":0.037,"d":1},{"s":1969,"e":2011,"v":0.032},{"s":1969,"e":2010,"v":0.036,"d":1},{"s":1969,"e":2009,"v":0.037},{"s":1969,"e":2008,"v":0.03},{"s":1969,"e":2007,"v":0.032},{"s":1969,"e":2006,"v":0.039},{"s":1969,"e":2005,"v":0.037},{"s":1969,"e":2004,"v":0.042},{"s":1969,"e":2003,"v":0.041},{"s":1969,"e":2002,"v":0.036},{"s":1969,"e":2001,"v":0.036},{"s":1969,"e":2000,"v":0.036},{"s":1969,"e":1999,"v":0.032},{"s":1969,"e":1998,"v":0.032},
{"s":1968,"e":2012,"v":0.032},{"s":1968,"e":2011,"v":0.024},{"s":1968,"e":2010,"v":0.029},{"s":1968,"e":2009,"v":0.03},{"s":1968,"e":2008,"v":0.019},{"s":1968,"e":2007,"v":0.02},{"s":1968,"e":2006,"v":0.029},{"s":1968,"e":2005,"v":0.023},{"s":1968,"e":2004,"v":0.033},{"s":1968,"e":2003,"v":0.027},{"s":1968,"e":2002,"v":0.022},{"s":1968,"e":2001,"v":0.02},{"s":1968,"e":2000,"v":0.019},{"s":1968,"e":1999,"v":0.017},{"s":1968,"e":1998,"v":0.017},{"s":1968,"e":1997,"v":0.036},
{"s":1967,"e":2012,"v":0.026},{"s":1967,"e":2011,"v":0.019},{"s":1967,"e":2010,"v":0.021},{"s":1967,"e":2009,"v":0.022},{"s":1967,"e":2008,"v":0.017},{"s":1967,"e":2007,"v":0.016},{"s":1967,"e":2006,"v":0.021},{"s":1967,"e":2005,"v":0.019},{"s":1967,"e":2004,"v":0.022},{"s":1967,"e":2003,"v":0.02},{"s":1967,"e":2002,"v":0.017},{"s":1967,"e":2001,"v":0.016},{"s":1967,"e":2000,"v":0.015},{"s":1967,"e":1999,"v":0.015},{"s":1967,"e":1998,"v":0.014},{"s":1967,"e":1997,"v":0.018},{"s":1967,"e":1996,"v":0.007},
{"s":1966,"e":2012,"v":0.025},{"s":1966,"e":2011,"v":0.018},{"s":1966,"e":2010,"v":0.022},{"s":1966,"e":2009,"v":0.023},{"s":1966,"e":2008,"v":0.015},{"s":1966,"e":2007,"v":0.015},{"s":1966,"e":2006,"v":0.022},{"s":1966,"e":2005,"v":0.019},{"s":1966,"e":2004,"v":0.023},{"s":1966,"e":2003,"v":0.022},{"s":1966,"e":2002,"v":0.018},{"s":1966,"e":2001,"v":0.016},{"s":1966,"e":2000,"v":0.015},{"s":1966,"e":1999,"v":0.015},{"s":1966,"e":1998,"v":0.015},{"s":1966,"e":1997,"v":0.022},{"s":1966,"e":1996,"v":0.015},{"s":1966,"e":1995,"v":0.013},
{"s":1965,"e":2012,"v":0.025},{"s":1965,"e":2011,"v":0.018},{"s":1965,"e":2010,"v":0.021},{"s":1965,"e":2009,"v":0.021},{"s":1965,"e":2008,"v":0.016},{"s":1965,"e":2007,"v":0.016},{"s":1965,"e":2006,"v":0.022},{"s":1965,"e":2005,"v":0.019},{"s":1965,"e":2004,"v":0.023},{"s":1965,"e":2003,"v":0.022},{"s":1965,"e":2002,"v":0.018},{"s":1965,"e":2001,"v":0.017},{"s":1965,"e":2000,"v":0.016},{"s":1965,"e":1999,"v":0.015},{"s":1965,"e":1998,"v":0.016},{"s":1965,"e":1997,"v":0.022},{"s":1965,"e":1996,"v":0.017},{"s":1965,"e":1995,"v":0.005},{"s":1965,"e":1994,"v":0.005},
{"s":1964,"e":2012,"v":0.02},{"s":1964,"e":2011,"v":0.014},{"s":1964,"e":2010,"v":0.015},{"s":1964,"e":2009,"v":0.014},{"s":1964,"e":2008,"v":0.011},{"s":1964,"e":2007,"v":0.011},{"s":1964,"e":2006,"v":0.015},{"s":1964,"e":2005,"v":0.01},{"s":1964,"e":2004,"v":0.014},{"s":1964,"e":2003,"v":0.013},{"s":1964,"e":2002,"v":0.011},{"s":1964,"e":2001,"v":0.005},{"s":1964,"e":2000,"v":0.005},{"s":1964,"e":1999,"v":0.004},{"s":1964,"e":1998,"v":0.004},{"s":1964,"e":1997,"v":0.012},{"s":1964,"e":1996,"v":0},{"s":1964,"e":1995,"v":-0.001},{"s":1964,"e":1994,"v":-0.002},{"s":1964,"e":1993,"v":-0.003},
{"s":1963,"e":2012,"v":0.023},{"s":1963,"e":2011,"v":0.018},{"s":1963,"e":2010,"v":0.018},{"s":1963,"e":2009,"v":0.018},{"s":1963,"e":2008,"v":0.015},{"s":1963,"e":2007,"v":0.015},{"s":1963,"e":2006,"v":0.02},{"s":1963,"e":2005,"v":0.016},{"s":1963,"e":2004,"v":0.02},{"s":1963,"e":2003,"v":0.02},{"s":1963,"e":2002,"v":0.018},{"s":1963,"e":2001,"v":0.011},{"s":1963,"e":2000,"v":0.011},{"s":1963,"e":1999,"v":0.01},{"s":1963,"e":1998,"v":0.011},{"s":1963,"e":1997,"v":0.02},{"s":1963,"e":1996,"v":0.004},{"s":1963,"e":1995,"v":0.002},{"s":1963,"e":1994,"v":0.002},{"s":1963,"e":1993,"v":0.005},{"s":1963,"e":1992,"v":-0.003}],
"pc4":[
{"s":1983,"e":2012,"v":0.062,"d":1},
{"s":1982,"e":2012,"v":0.056,"d":1},{"s":1982,"e":2011,"v":0.05,"d":1},
{"s":1981,"e":2012,"v":0.056,"d":1},{"s":1981,"e":2011,"v":0.05,"d":1},{"s":1981,"e":2010,"v":0.04},
{"s":1980,"e":2012,"v":0.05,"d":1},{"s":1980,"e":2011,"v":0.045,"d":1},{"s":1980,"e":2010,"v":0.04},{"s":1980,"e":2009,"v":0.035},
{"s":1979,"e":2012,"v":0.05,"d":1},{"s":1979,"e":2011,"v":0.044,"d":1},{"s":1979,"e":2010,"v":0.037},{"s":1979,"e":2009,"v":0.026},{"s":1979,"e":2008,"v":0.02},
{"s":1978,"e":2012,"v":0.044,"d":1},{"s":1978,"e":2011,"v":0.043,"d":1},{"s":1978,"e":2010,"v":0.028},{"s":1978,"e":2009,"v":0.02},{"s":1978,"e":2008,"v":0.018},{"s":1978,"e":2007,"v":0.016},
{"s":1977,"e":2012,"v":0.04,"d":1},{"s":1977,"e":2011,"v":0.034},{"s":1977,"e":2010,"v":0.02},{"s":1977,"e":2009,"v":0.018},{"s":1977,"e":2008,"v":0.016},{"s":1977,"e":2007,"v":0.011},{"s":1977,"e":2006,"v":0.016},
{"s":1976,"e":2012,"v":0.035,"d":1},{"s":1976,"e":2011,"v":0.023},{"s":1976,"e":2010,"v":0.021},{"s":1976,"e":2009,"v":0.02},{"s":1976,"e":2008,"v":0.017},{"s":1976,"e":2007,"v":0.011},{"s":1976,"e":2006,"v":0.016},{"s":1976,"e":2005,"v":0.015},
{"s":1975,"e":2012,"v":0.035,"d":1},{"s":1975,"e":2011,"v":0.023},{"s":1975,"e":2010,"v":0.021},{"s":1975,"e":2009,"v":0.02},{"s":1975,"e":2008,"v":0.018},{"s":1975,"e":2007,"v":0.011},{"s":1975,"e":2006,"v":0.014},{"s":1975,"e":2005,"v":0.012},{"s":1975,"e":2004,"v":0.014},
{"s":1974,"e":2012,"v":0.035,"d":1},{"s":1974,"e":2011,"v":0.024},{"s":1974,"e":2010,"v":0.021},{"s":1974,"e":2009,"v":0.02},{"s":1974,"e":2008,"v":0.019},{"s":1974,"e":2007,"v":0.012},{"s":1974,"e":2006,"v":0.014},{"s":1974,"e":2005,"v":0.014},{"s":1974,"e":2004,"v":0.015},{"s":1974,"e":2003,"v":0.021},
{"s":1973,"e":2012,"v":0.033,"d":1},{"s":1973,"e":2011,"v":0.026,"d":1},{"s":1973,"e":2010,"v":0.023,"d":1},{"s":1973,"e":2009,"v":0.022},{"s":1973,"e":2008,"v":0.021},{"s":1973,"e":2007,"v":0.019},{"s":1973,"e":2006,"v":0.021},{"s":1973,"e":2005,"v":0.017},{"s":1973,"e":2004,"v":0.019},{"s":1973,"e":2003,"v":0.024,"d":1},{"s":1973,"e":2002,"v":0.022},
{"s":1972,"e":2012,"v":0.034,"d":1},{"s":1972,"e":2011,"v":0.028,"d":1},{"s":1972,"e":2010,"v":0.023},{"s":1972,"e":2009,"v":0.02},{"s":1972,"e":2008,"v":0.016},{"s":1972,"e":2007,"v":0.01},{"s":1972,"e":2006,"v":0.016},{"s":1972,"e":2005,"v":0.016},{"s":1972,"e":2004,"v":0.018},{"s":1972,"e":2003,"v":0.023},{"s":1972,"e":2002,"v":0.018},{"s":1972,"e":2001,"v":0.014},
{"s":1971,"e":2012,"v":0.031,"d":1},{"s":1971,"e":2011,"v":0.025,"d":1},{"s":1971,"e":2010,"v":0.023,"d":1},{"s":1971,"e":2009,"v":0.02},{"s":1971,"e":2008,"v":0.017},{"s":1971,"e":2007,"v":0.016},{"s":1971,"e":2006,"v":0.017},{"s":1971,"e":2005,"v":0.017},{"s":1971,"e":2004,"v":0.019},{"s":1971,"e":2003,"v":0.024},{"s":1971,"e":2002,"v":0.02},{"s":1971,"e":2001,"v":0.016},{"s":1971,"e":2000,"v":0.015},
{"s":1970,"e":2012,"v":0.031,"d":1},{"s":1970,"e":2011,"v":0.026,"d":1},{"s":1970,"e":2010,"v":0.024,"d":1},{"s":1970,"e":2009,"v":0.02},{"s":1970,"e":2008,"v":0.018},{"s":1970,"e":2007,"v":0.018},{"s":1970,"e":2006,"v":0.018},{"s":1970,"e":2005,"v":0.017},{"s":1970,"e":2004,"v":0.019},{"s":1970,"e":2003,"v":0.024,"d":1},{"s":1970,"e":2002,"v":0.02},{"s":1970,"e":2001,"v":0.018},{"s":1970,"e":2000,"v":0.016},{"s":1970,"e":1999,"v":0.014},
{"s":1969,"e":2012,"v":0.029,"d":1},{"s":1969,"e":2011,"v":0.022,"d":1},{"s":1969,"e":2010,"v":0.02},{"s":1969,"e":2009,"v":0.018},{"s":1969,"e":2008,"v":0.015},{"s":1969,"e":2007,"v":0.012},{"s":1969,"e":2006,"v":0.015},{"s":1969,"e":2005,"v":0.014},{"s":1969,"e":2004,"v":0.017},{"s":1969,"e":2003,"v":0.019},{"s":1969,"e":2002,"v":0.016},{"s":1969,"e":2001,"v":0.015},{"s":1969,"e":2000,"v":0.01},{"s":1969,"e":1999,"v":0.01},{"s":1969,"e":1998,"v":0.008},
{"s":1968,"e":2012,"v":0.027,"d":1},{"s":1968,"e":2011,"v":0.022,"d":1},{"s":1968,"e":2010,"v":0.018},{"s":1968,"e":2009,"v":0.016},{"s":1968,"e":2008,"v":0.012},{"s":1968,"e":2007,"v":0.01},{"s":1968,"e":2006,"v":0.015},{"s":1968,"e":2005,"v":0.011},{"s":1968,"e":2004,"v":0.014},{"s":1968,"e":2003,"v":0.016},{"s":1968,"e":2002,"v":0.014},{"s":1968,"e":2001,"v":0.013},{"s":1968,"e":2000,"v":0.01},{"s":1968,"e":1999,"v":0.008},{"s":1968,"e":1998,"v":0.008},{"s":1968,"e":1997,"v":0.009},
{"s":1967,"e":2012,"v":0.027,"d":1},{"s":1967,"e":2011,"v":0.022,"d":1},{"s":1967,"e":2010,"v":0.018},{"s":1967,"e":2009,"v":0.017},{"s":1967,"e":2008,"v":0.013},{"s":1967,"e":2007,"v":0.01},{"s":1967,"e":2006,"v":0.014},{"s":1967,"e":2005,"v":0.011},{"s":1967,"e":2004,"v":0.014},{"s":1967,"e":2003,"v":0.017},{"s":1967,"e":2002,"v":0.015},{"s":1967,"e":2001,"v":0.012},{"s":1967,"e":2000,"v":0.009},{"s":1967,"e":1999,"v":0.008},{"s":1967,"e":1998,"v":0.007},{"s":1967,"e":1997,"v":0.008},{"s":1967,"e":1996,"v":0.004},
{"s":1966,"e":2012,"v":0.028,"d":1},{"s":1966,"e":2011,"v":0.022,"d":1},{"s":1966,"e":2010,"v":0.019,"d":1},{"s":1966,"e":2009,"v":0.017},{"s":1966,"e":2008,"v":0.012},{"s":1966,"e":2007,"v":0.01},{"s":1966,"e":2006,"v":0.015},{"s":1966,"e":2005,"v":0.013},{"s":1966,"e":2004,"v":0.016},{"s":1966,"e":2003,"v":0.018},{"s":1966,"e":2002,"v":0.015},{"s":1966,"e":2001,"v":0.013},{"s":1966,"e":2000,"v":0.01},{"s":1966,"e":1999,"v":0.01},{"s":1966,"e":1998,"v":0.009},{"s":1966,"e":1997,"v":0.009},{"s":1966,"e":1996,"v":0.005},{"s":1966,"e":1995,"v":0.003},
{"s":1965,"e":2012,"v":0.027,"d":1},{"s":1965,"e":2011,"v":0.022,"d":1},{"s":1965,"e":2010,"v":0.017},{"s":1965,"e":2009,"v":0.015},{"s":1965,"e":2008,"v":0.01},{"s":1965,"e":2007,"v":0.008},{"s":1965,"e":2006,"v":0.01},{"s":1965,"e":2005,"v":0.009},{"s":1965,"e":2004,"v":0.014},{"s":1965,"e":2003,"v":0.017},{"s":1965,"e":2002,"v":0.014},{"s":1965,"e":2001,"v":0.011},{"s":1965,"e":2000,"v":0.008},{"s":1965,"e":1999,"v":0.006},{"s":1965,"e":1998,"v":0.005},{"s":1965,"e":1997,"v":0.007},{"s":1965,"e":1996,"v":0.004},{"s":1965,"e":1995,"v":-0.002},{"s":1965,"e":1994,"v":-0.002},
{"s":1964,"e":2012,"v":0.027,"d":1},{"s":1964,"e":2011,"v":0.023,"d":1},{"s":1964,"e":2010,"v":0.019,"d":1},{"s":1964,"e":2009,"v":0.016},{"s":1964,"e":2008,"v":0.014},{"s":1964,"e":2007,"v":0.01},{"s":1964,"e":2006,"v":0.014},{"s":1964,"e":2005,"v":0.012},{"s":1964,"e":2004,"v":0.018},{"s":1964,"e":2003,"v":0.018},{"s":1964,"e":2002,"v":0.016},{"s":1964,"e":2001,"v":0.013},{"s":1964,"e":2000,"v":0.01},{"s":1964,"e":1999,"v":0.01},{"s":1964,"e":1998,"v":0.01},{"s":1964,"e":1997,"v":0.011},{"s":1964,"e":1996,"v":0.005},{"s":1964,"e":1995,"v":0.002},{"s":1964,"e":1994,"v":0.002},{"s":1964,"e":1993,"v":-0.004}],
"lineb":[{"y":1953,"t":6.57},{"y":1954,"t":5.72},{"y":1955,"t":5.63},{"y":1956,"t":5.66},{"y":1957,"t":6.85},{"y":1958,"t":6.28},{"y":1959,"t":6.27},{"y":1960,"t":5.72},{"y":1961,"t":5.63},{"y":1962,"t":6.8},{"y":1963,"t":6.44},{"y":1964,"t":7.86},{"y":1965,"t":6.98},{"y":1966,"t":6.2},{"y":1967,"t":7.09},{"y":1968,"t":6.28},{"y":1969,"t":6.3},{"y":1970,"t":6.0},{"y":1971,"t":5.61},{"y":1972,"t":7.31},{"y":1973,"t":6.11},{"y":1974,"t":6.11},{"y":1975,"t":6.04},{"y":1976,"t":6.76},{"y":1977,"t":6.07},{"y":1978,"t":6.8},{"y":1979,"t":7.21},{"y":1980,"t":6.5},{"y":1981,"t":6.89},{"y":1982,"t":7.78},{"y":1983,"t":6.8},{"y":1984,"t":6.89},{"y":1985,"t":7.08},{"y":1986,"t":7.15},{"y":1987,"t":7.67},{"y":1988,"t":6.72},{"y":1989,"t":6.98},{"y":1990,"t":7.54},{"y":1991,"t":6.98},{"y":1992,"t":6.59},{"y":1993,"t":7.54},{"y":1994,"t":7.59},{"y":1995,"t":7.15},{"y":1996,"t":6.82},{"y":1997,"t":8.77},{"y":1998,"t":7.33},{"y":1999,"t":7.15},{"y":2000,"t":6.8},{"y":2001,"t":7.67},{"y":2002,"t":8.06},{"y":2003,"t":7.72},{"y":2004,"t":7.86},{"y":2005,"t":7.76},{"y":2006,"t":8.19},{"y":2007,"t":7.5},{"y":2008,"t":7.5},{"y":2009,"t":8.41},{"y":2010,"t":7.5},{"y":2011,"t":7.21},{"y":2012,"t":7.6}],
"linec":[{"y":1963,"t":-0.82},{"y":1964,"t":0.03},{"y":1965,"t":0.19},{"y":1966,"t":-0.1},{"y":1967,"t":0.2},{"y":1968,"t":0.43},{"y":1969,"t":-0.73},{"y":1970,"t":0.78},{"y":1971,"t":0.84},{"y":1972,"t":1.66},{"y":1973,"t":0.05},{"y":1974,"t":0.09},{"y":1975,"t":0.84},{"y":1976,"t":-1.04},{"y":1977,"t":0.63},{"y":1978,"t":0.4},{"y":1979,"t":-1.04},{"y":1980,"t":0.28},{"y":1981,"t":0.34},{"y":1982,"t":-2.61},{"y":1983,"t":0.28},{"y":1984,"t":1.66},{"y":1985,"t":0.87},{"y":1986,"t":1.82},{"y":1987,"t":0.34},{"y":1988,"t":0.03},{"y":1989,"t":-0.63},{"y":1990,"t":-0.33},{"y":1991,"t":-1.96},{"y":1992,"t":-1.29},{"y":1993,"t":0.97},{"y":1994,"t":-0.29},{"y":1995,"t":0.4},{"y":1996,"t":1.78},{"y":1997,"t":0.6},{"y":1998,"t":-0.04},{"y":1999,"t":1.0},{"y":2000,"t":2.66},{"y":2001,"t":-1.36},{"y":2002,"t":0.82},{"y":2003,"t":0.5},{"y":2004,"t":-0.23},{"y":2005,"t":0.28},{"y":2006,"t":0.09},{"y":2007,"t":0.72},{"y":2008,"t":0.75},{"y":2009,"t":2.03},{"y":2010,"t":0.93},{"y":2011,"t":1.5},{"y":2012,"t":2.1}],
"lined":[{"y":1963,"t":4.49},{"y":1964,"t":3.8},{"y":1965,"t":4.88},{"y":1966,"t":4.15},{"y":1967,"t":4.51},{"y":1968,"t":4.17},{"y":1969,"t":4.88},{"y":1970,"t":3.92},{"y":1971,"t":4.85},{"y":1972,"t":5.33},{"y":1973,"t":3.83},{"y":1974,"t":3.51},{"y":1975,"t":3.88},{"y":1976,"t":3.31},{"y":1977,"t":3.6},{"y":1978,"t":3.6},{"y":1979,"t":3.66},{"y":1980,"t":4.4},{"y":1981,"t":4.8},{"y":1982,"t":4.93},{"y":1983,"t":4.85},{"y":1984,"t":4.19},{"y":1985,"t":5.14},{"y":1986,"t":5.31},{"y":1987,"t":5.37},{"y":1988,"t":4.0},{"y":1989,"t":3.62},{"y":1990,"t":3.6},{"y":1991,"t":3.06},{"y":1992,"t":3.71},{"y":1993,"t":4.4},{"y":1994,"t":4.4},{"y":1995,"t":4.51},{"y":1996,"t":4.63},{"y":1997,"t":6.42},{"y":1998,"t":4.8},{"y":1999,"t":4.74},{"y":2000,"t":4.68},{"y":2001,"t":4.63},{"y":2002,"t":4.95},{"y":2003,"t":4.99},{"y":2004,"t":4.99},{"y":2005,"t":4.4},{"y":2006,"t":4.82},{"y":2007,"t":4.23},{"y":2008,"t":4.51},{"y":2009,"t":5.6},{"y":2010,"t":4.85},{"y":2011,"t":4.57},{"y":2012,"t":5.8}],
"linee":[{"y":1964,"t":3.0},{"y":1965,"t":4.08},{"y":1966,"t":3.38},{"y":1967,"t":3.79},{"y":1968,"t":3.83},{"y":1969,"t":4.15},{"y":1970,"t":3.65},{"y":1971,"t":3.3},{"y":1972,"t":4.17},{"y":1973,"t":3.08},{"y":1974,"t":3.47},{"y":1975,"t":3.69},{"y":1976,"t":4.01},{"y":1977,"t":4.03},{"y":1978,"t":3.88},{"y":1979,"t":3.95},{"y":1980,"t":3.47},{"y":1981,"t":4.56},{"y":1982,"t":2.83},{"y":1983,"t":5.7},{"y":1984,"t":3.69},{"y":1985,"t":2.6},{"y":1986,"t":3.51},{"y":1987,"t":3.62},{"y":1988,"t":3.6},{"y":1989,"t":3.28},{"y":1990,"t":2.6},{"y":1991,"t":3.35},{"y":1992,"t":3.51},{"y":1993,"t":4.0},{"y":1994,"t":4.26},{"y":1995,"t":3.79},{"y":1996,"t":4.01},{"y":1997,"t":5.0},{"y":1998,"t":3.88},{"y":1999,"t":3.74},{"y":2000,"t":3.83},{"y":2001,"t":4.2},{"y":2002,"t":4.97},{"y":2003,"t":3.9},{"y":2004,"t":3.45},{"y":2005,"t":3.51},{"y":2006,"t":4.31},{"y":2007,"t":2.4},{"y":2008,"t":4.51},{"y":2009,"t":5.02},{"y":2010,"t":4.56},{"y":2011,"t":4.54},{"y":2012,"t":5.52}],
"map":[
{"k":1,"mx":905,"my":30},{"k":1,"mx":895,"my":70},{"k":1,"mx":895,"my":128},{"k":1,"mx":860,"my":122},{"k":1,"mx":800,"my":120},{"k":1,"mx":770,"my":135},{"k":1,"mx":755,"my":138},{"k":1,"mx":745,"my":118},{"k":1,"mx":735,"my":135},{"k":1,"mx":700,"my":115},{"k":1,"mx":660,"my":105},{"k":1,"mx":620,"my":95},{"k":1,"mx":590,"my":110},{"k":1,"mx":572,"my":120},{"k":1,"mx":560,"my":150},{"k":1,"mx":525,"my":160},{"k":1,"mx":490,"my":155},{"k":1,"mx":490,"my":280},{"k":1,"mx":440,"my":282},{"k":1,"mx":408,"my":308},{"k":1,"mx":405,"my":285},{"k":1,"mx":380,"my":285},{"k":1,"mx":345,"my":300},{"k":1,"mx":320,"my":295},{"k":1,"mx":300,"my":325},{"k":1,"mx":295,"my":360},{"k":1,"mx":300,"my":395},{"k":1,"mx":270,"my":420},{"k":1,"mx":270,"my":440},{"k":1,"mx":245,"my":465},{"k":1,"mx":235,"my":490},{"k":1,"mx":240,"my":510},{"k":1,"mx":222,"my":540},{"k":1,"mx":220,"my":575},{"k":1,"mx":195,"my":600},{"k":1,"mx":190,"my":620},{"k":1,"mx":160,"my":635},{"k":1,"mx":120,"my":640},{"k":1,"mx":85,"my":640},{"k":1,"mx":60,"my":635},{"k":1,"mx":30,"my":645},{"k":1,"mx":40,"my":700},{"k":1,"mx":45,"my":730},{"k":1,"mx":75,"my":770},{"k":1,"mx":100,"my":810},{"k":1,"mx":100,"my":830},{"k":1,"mx":125,"my":860},{"k":1,"mx":130,"my":885},{"k":1,"mx":118,"my":935},{"k":1,"mx":125,"my":985},{"k":1,"mx":118,"my":1010},{"k":1,"mx":20,"my":1008},
{"k":2,"mx":118,"my":935},{"k":2,"mx":220,"my":875},{"k":2,"mx":250,"my":892},{"k":2,"mx":300,"my":893},{"k":2,"mx":340,"my":885},{"k":2,"mx":365,"my":900},{"k":2,"mx":395,"my":920},{"k":2,"mx":415,"my":910},{"k":2,"mx":435,"my":925},{"k":2,"mx":470,"my":925},{"k":2,"mx":500,"my":905},{"k":2,"mx":520,"my":900},{"k":2,"mx":545,"my":935},{"k":2,"mx":565,"my":935},{"k":2,"mx":580,"my":950},{"k":2,"mx":610,"my":965},{"k":2,"mx":630,"my":990},{"k":2,"mx":600,"my":1040},{"k":2,"mx":570,"my":1065},{"k":2,"mx":550,"my":1070},{"k":2,"mx":520,"my":1130},{"k":2,"mx":495,"my":1197},
{"k":3,"mx":580,"my":930},{"k":3,"mx":610,"my":905},{"k":3,"mx":650,"my":895},{"k":3,"mx":690,"my":885},{"k":3,"mx":705,"my":860},{"k":3,"mx":725,"my":870},{"k":3,"mx":750,"my":880},{"k":3,"mx":780,"my":875},{"k":3,"mx":810,"my":860},{"k":3,"mx":840,"my":845},{"k":3,"mx":880,"my":825},{"k":3,"mx":920,"my":815},{"k":3,"mx":950,"my":800},{"k":3,"mx":945,"my":765},{"k":3,"mx":925,"my":755},{"k":3,"mx":905,"my":740},{"k":3,"mx":890,"my":710},{"k":3,"mx":870,"my":700},{"k":3,"mx":885,"my":670},{"k":3,"mx":905,"my":650},{"k":3,"mx":900,"my":590},{"k":3,"mx":945,"my":570},{"k":3,"mx":890,"my":545},{"k":3,"mx":885,"my":460},{"k":3,"mx":905,"my":450},{"k":3,"mx":925,"my":420},{"k":3,"mx":975,"my":390},
{"k":4,"mx":905,"my":450},{"k":4,"mx":890,"my":450},{"k":4,"mx":840,"my":435},{"k":4,"mx":785,"my":425},{"k":4,"mx":755,"my":400},{"k":4,"mx":722,"my":388},{"k":4,"mx":715,"my":320},{"k":4,"mx":700,"my":260},{"k":4,"mx":700,"my":210},{"k":4,"mx":735,"my":138},
{"k":5,"mx":945,"my":765},{"k":5,"mx":975,"my":760},
{"k":6,"mx":630,"my":990},{"k":6,"mx":700,"my":980},{"k":6,"mx":760,"my":975},{"k":6,"mx":820,"my":970},{"k":6,"mx":860,"my":968},{"k":6,"mx":900,"my":975},{"k":6,"mx":950,"my":985},{"k":6,"mx":965,"my":1005},{"k":6,"mx":975,"my":1005},
{"k":7,"mx":20,"my":1015},{"k":7,"mx":50,"my":1050},{"k":7,"mx":52,"my":1118},{"k":7,"mx":20,"my":1125}],
"stations":[{"mx":855,"my":598},{"mx":678,"my":638},{"mx":718,"my":670},{"mx":555,"my":820},{"mx":412,"my":948},{"mx":385,"my":1013},{"mx":483,"my":930}],
"rings":[{"mx":530,"my":827},{"mx":488,"my":885},{"mx":405,"my":960},{"mx":353,"my":970}],
"counts":[{"mx":555,"my":655,"n":"1"},{"mx":545,"my":686,"n":"1"},{"mx":587,"my":750,"n":"2"},{"mx":483,"my":825,"n":"1"},{"mx":530,"my":822,"n":"1"},{"mx":448,"my":860,"n":"1"},{"mx":488,"my":885,"n":"2"},{"mx":405,"my":915,"n":"1"},{"mx":502,"my":930,"n":"2"},{"mx":403,"my":958,"n":"3"},{"mx":360,"my":965,"n":"43"},{"mx":445,"my":953,"n":"1"},{"mx":457,"my":978,"n":"2"},{"mx":410,"my":1000,"n":"2"}],
"scalebar":[{"mx":950,"my":170,"mx2":950,"my2":395},{"mx":940,"my":170,"mx2":960,"my2":170},{"mx":940,"my":283,"mx2":960,"my2":283},{"mx":940,"my":395,"mx2":960,"my2":395}],
"scalelab":[{"mx":917,"my":395,"n":"0"},{"mx":917,"my":340,"n":"90"},{"mx":917,"my":283,"n":"180"},{"mx":917,"my":135,"n":"360 Km"}],
"cb":[{"a":0,"a2":1,"v":-0.1},{"a":0,"a2":1,"v":-0.095},{"a":0,"a2":1,"v":-0.09},{"a":0,"a2":1,"v":-0.085},{"a":0,"a2":1,"v":-0.08},{"a":0,"a2":1,"v":-0.075},{"a":0,"a2":1,"v":-0.07},{"a":0,"a2":1,"v":-0.065},{"a":0,"a2":1,"v":-0.06},{"a":0,"a2":1,"v":-0.055},{"a":0,"a2":1,"v":-0.05},{"a":0,"a2":1,"v":-0.045},{"a":0,"a2":1,"v":-0.04},{"a":0,"a2":1,"v":-0.035},{"a":0,"a2":1,"v":-0.03},{"a":0,"a2":1,"v":-0.025},{"a":0,"a2":1,"v":-0.02},{"a":0,"a2":1,"v":-0.015},{"a":0,"a2":1,"v":-0.01},{"a":0,"a2":1,"v":-0.005},{"a":0,"a2":1,"v":0},{"a":0,"a2":1,"v":0.005},{"a":0,"a2":1,"v":0.01},{"a":0,"a2":1,"v":0.015},{"a":0,"a2":1,"v":0.02},{"a":0,"a2":1,"v":0.025},{"a":0,"a2":1,"v":0.03},{"a":0,"a2":1,"v":0.035},{"a":0,"a2":1,"v":0.04},{"a":0,"a2":1,"v":0.045},{"a":0,"a2":1,"v":0.05},{"a":0,"a2":1,"v":0.055},{"a":0,"a2":1,"v":0.06},{"a":0,"a2":1,"v":0.065},{"a":0,"a2":1,"v":0.07},{"a":0,"a2":1,"v":0.075},{"a":0,"a2":1,"v":0.08},{"a":0,"a2":1,"v":0.085},{"a":0,"a2":1,"v":0.09},{"a":0,"a2":1,"v":0.095},{"a":0,"a2":1,"v":0.1}]
},
"resolve":{"scale":{"x":"independent","y":"independent"}},
"layer":[
{"encoding":{"x":{"field":"e","type":"quantitative","scale":{"domain":[2014.44,1971.48],"range":[23,511]},"axis":{"orient":"bottom","offset":-993.5,"values":[1974,1976,1978,1980,1982,1984,1986,1988,1990,1992,1994,1996,1998,2000,2002,2004,2006,2008,2010,2012],"format":"d","labelAngle":270,"labelFontSize":13,"tickSize":3.5,"title":null}},"y":{"field":"s","type":"quantitative","scale":{"domain":[1942.53,1985.46],"range":[509.5,21.7]},"axis":{"orient":"right","offset":-684,"values":[1945,1947,1949,1951,1953,1955,1957,1959,1961,1963,1965,1967,1969,1971,1973,1975,1977,1979,1981,1983],"labelExpr":"(datum.value-1945)%4==0?format(datum.value,'d'):''","labelAngle":270,"labelFontSize":13,"tickSize":3.5,"title":"Start","titleAngle":270,"titleFontSize":14,"titleX":29,"titleY":257,"titleBaseline":"middle"}}},
"layer":[
{"data":{"name":"gv"},"mark":{"type":"rule","strokeWidth":0.8},"encoding":{"y2":{"field":"s2"},"stroke":{"condition":{"test":"datum.m==1","value":"#e6e6e6"},"value":"#f3f3f3"}}},
{"data":{"name":"gh"},"mark":{"type":"rule","strokeWidth":0.8},"encoding":{"x2":{"field":"e2"},"stroke":{"condition":{"test":"datum.m==1","value":"#e6e6e6"},"value":"#f3f3f3"}}},
{"data":{"values":[{"e":2014.44,"e2":1971.48,"s":1942.53,"s2":1985.46}]},"mark":{"type":"rect","fillOpacity":0,"stroke":"#a6a6a6","strokeWidth":1.2},"encoding":{"x2":{"field":"e2"},"y2":{"field":"s2"}}},
{"data":{"name":"gray"},"mark":{"type":"rect","width":12.4,"fill":"#7f7f7f"},"encoding":{"y2":{"field":"t2"}}},
{"data":{"name":"pc2"},"mark":{"type":"rect","width":12.4,"height":12.4},"encoding":{"color":{"field":"v","type":"quantitative","scale":{"scheme":"redyellowblue","reverse":true,"domain":[-0.1,0.1]},"legend":null}}},
{"data":{"name":"pc2"},"transform":[{"filter":"datum.d==1"}],"mark":{"type":"point","filled":true,"size":8,"color":"#000000","opacity":1}},
{"data":{"values":[{"e":2015.4,"s":1964.05,"n":"PC2"}]},"mark":{"type":"text","angle":270,"fontSize":13,"color":"#222222"},"encoding":{"text":{"field":"n"}}},
{"data":{"values":[{"e":2015.05,"s":1939.67,"n":"(c)"}]},"mark":{"type":"text","angle":270,"fontSize":20,"color":"#111111"},"encoding":{"text":{"field":"n"}}}
]},
{"encoding":{"x":{"field":"e","type":"quantitative","scale":{"domain":[2014.46,1971.6],"range":[24,511]},"axis":{"orient":"bottom","offset":-451,"values":[1974,1976,1978,1980,1982,1984,1986,1988,1990,1992,1994,1996,1998,2000,2002,2004,2006,2008,2010,2012],"format":"d","labelAngle":270,"labelFontSize":13,"tickSize":3.5,"title":"End","titleAngle":180,"titleFontSize":13,"titleX":246,"titleY":47,"titleBaseline":"middle"}},"y":{"field":"s","type":"quantitative","scale":{"domain":[1942.53,1985.5],"range":[1052,564]},"axis":{"orient":"right","offset":-684,"values":[1945,1947,1949,1951,1953,1955,1957,1959,1961,1963,1965,1967,1969,1971,1973,1975,1977,1979,1981,1983],"labelExpr":"(datum.value-1945)%4==0?format(datum.value,'d'):''","labelAngle":270,"labelFontSize":13,"tickSize":3.5,"title":"Start","titleAngle":270,"titleFontSize":14,"titleX":29,"titleY":820,"titleBaseline":"middle"}}},
"layer":[
{"data":{"name":"gv"},"mark":{"type":"rule","strokeWidth":0.8},"encoding":{"y2":{"field":"s2"},"stroke":{"condition":{"test":"datum.m==1","value":"#e6e6e6"},"value":"#f3f3f3"}}},
{"data":{"name":"gh"},"mark":{"type":"rule","strokeWidth":0.8},"encoding":{"x2":{"field":"e2"},"stroke":{"condition":{"test":"datum.m==1","value":"#e6e6e6"},"value":"#f3f3f3"}}},
{"data":{"values":[{"e":2014.46,"e2":1971.6,"s":1942.53,"s2":1985.5}]},"mark":{"type":"rect","fillOpacity":0,"stroke":"#a6a6a6","strokeWidth":1.2},"encoding":{"x2":{"field":"e2"},"y2":{"field":"s2"}}},
{"data":{"name":"gray"},"mark":{"type":"rect","width":12.4,"fill":"#7f7f7f"},"encoding":{"y2":{"field":"t1"}}},
{"data":{"name":"pc1"},"mark":{"type":"rect","width":12.4,"height":12.4},"encoding":{"color":{"field":"v","type":"quantitative","scale":{"scheme":"redyellowblue","reverse":true,"domain":[-0.1,0.1]},"legend":null}}},
{"data":{"name":"pc1"},"transform":[{"filter":"datum.ns!==1"}],"mark":{"type":"point","filled":true,"size":8,"color":"#000000","opacity":1}},
{"data":{"values":[{"e":2015.26,"s":1962.08,"n":"PC1"}]},"mark":{"type":"text","angle":270,"fontSize":13,"color":"#222222"},"encoding":{"text":{"field":"n"}}},
{"data":{"values":[{"e":2015.17,"s":1938.57,"n":"(b)"}]},"mark":{"type":"text","angle":270,"fontSize":20,"color":"#111111"},"encoding":{"text":{"field":"n"}}}
]},
{"encoding":{"x":{"field":"e","type":"quantitative","scale":{"domain":[2014.39,1971.44],"range":[591,1080.7]},"axis":{"orient":"bottom","offset":-1009,"values":[1974,1976,1978,1980,1982,1984,1986,1988,1990,1992,1994,1996,1998,2000,2002,2004,2006,2008,2010,2012],"format":"d","labelAngle":270,"labelFontSize":13,"tickSize":3.5,"title":null}},"y":{"field":"s","type":"quantitative","scale":{"domain":[1942.54,1985.43],"range":[494,5.3]},"axis":{"orient":"right","offset":-114.3,"values":[1945,1947,1949,1951,1953,1955,1957,1959,1961,1963,1965,1967,1969,1971,1973,1975,1977,1979,1981,1983],"labelExpr":"(datum.value-1945)%4==0?format(datum.value,'d'):''","labelAngle":270,"labelFontSize":13,"tickSize":3.5,"title":"Start","titleAngle":270,"titleFontSize":14,"titleX":29,"titleY":237,"titleBaseline":"middle"}}},
"layer":[
{"data":{"name":"gv"},"mark":{"type":"rule","strokeWidth":0.8},"encoding":{"y2":{"field":"s2"},"stroke":{"condition":{"test":"datum.m==1","value":"#e6e6e6"},"value":"#f3f3f3"}}},
{"data":{"name":"gh"},"mark":{"type":"rule","strokeWidth":0.8},"encoding":{"x2":{"field":"e2"},"stroke":{"condition":{"test":"datum.m==1","value":"#e6e6e6"},"value":"#f3f3f3"}}},
{"data":{"values":[{"e":2014.39,"e2":1971.44,"s":1942.54,"s2":1985.43}]},"mark":{"type":"rect","fillOpacity":0,"stroke":"#a6a6a6","strokeWidth":1.2},"encoding":{"x2":{"field":"e2"},"y2":{"field":"s2"}}},
{"data":{"name":"gray"},"mark":{"type":"rect","width":12.4,"fill":"#7f7f7f"},"encoding":{"y2":{"field":"t4"}}},
{"data":{"name":"pc4"},"mark":{"type":"rect","width":12.4,"height":12.4},"encoding":{"color":{"field":"v","type":"quantitative","scale":{"scheme":"redyellowblue","reverse":true,"domain":[-0.1,0.1]},"legend":null}}},
{"data":{"name":"pc4"},"transform":[{"filter":"datum.d==1"}],"mark":{"type":"point","filled":true,"size":8,"color":"#000000","opacity":1}},
{"data":{"values":[{"e":2015.6,"s":1963.95,"n":"PC4"}]},"mark":{"type":"text","angle":270,"fontSize":13,"color":"#222222"},"encoding":{"text":{"field":"n"}}},
{"data":{"values":[{"e":2015.57,"s":1938.95,"n":"(e)"}]},"mark":{"type":"text","angle":270,"fontSize":20,"color":"#111111"},"encoding":{"text":{"field":"n"}}}
]},
{"encoding":{"x":{"field":"e","type":"quantitative","scale":{"domain":[2014.44,1971.5],"range":[591.5,1081]},"axis":{"orient":"bottom","offset":-456,"values":[1974,1976,1978,1980,1982,1984,1986,1988,1990,1992,1994,1996,1998,2000,2002,2004,2006,2008,2010,2012],"format":"d","labelAngle":270,"labelFontSize":13,"tickSize":3.5,"title":"End","titleAngle":180,"titleFontSize":13,"titleX":812,"titleY":52,"titleBaseline":"middle"}},"y":{"field":"s","type":"quantitative","scale":{"domain":[1942.54,1985.46],"range":[1047,559.5]},"axis":{"orient":"right","offset":-114,"values":[1945,1947,1949,1951,1953,1955,1957,1959,1961,1963,1965,1967,1969,1971,1973,1975,1977,1979,1981,1983],"labelExpr":"(datum.value-1945)%4==0?format(datum.value,'d'):''","labelAngle":270,"labelFontSize":13,"tickSize":3.5,"title":"Start","titleAngle":270,"titleFontSize":14,"titleX":29,"titleY":800,"titleBaseline":"middle"}}},
"layer":[
{"data":{"name":"gv"},"mark":{"type":"rule","strokeWidth":0.8},"encoding":{"y2":{"field":"s2"},"stroke":{"condition":{"test":"datum.m==1","value":"#e6e6e6"},"value":"#f3f3f3"}}},
{"data":{"name":"gh"},"mark":{"type":"rule","strokeWidth":0.8},"encoding":{"x2":{"field":"e2"},"stroke":{"condition":{"test":"datum.m==1","value":"#e6e6e6"},"value":"#f3f3f3"}}},
{"data":{"values":[{"e":2014.44,"e2":1971.5,"s":1942.54,"s2":1985.46}]},"mark":{"type":"rect","fillOpacity":0,"stroke":"#a6a6a6","strokeWidth":1.2},"encoding":{"x2":{"field":"e2"},"y2":{"field":"s2"}}},
{"data":{"name":"gray"},"mark":{"type":"rect","width":12.4,"fill":"#7f7f7f"},"encoding":{"y2":{"field":"t2"}}},
{"data":{"name":"pc3"},"mark":{"type":"rect","width":12.4,"height":12.4},"encoding":{"color":{"field":"v","type":"quantitative","scale":{"scheme":"redyellowblue","reverse":true,"domain":[-0.1,0.1]},"legend":null}}},
{"data":{"name":"pc3"},"transform":[{"filter":"datum.d==1"}],"mark":{"type":"point","filled":true,"size":8,"color":"#000000","opacity":1}},
{"data":{"values":[{"e":2015.89,"s":1964,"n":"PC3"}]},"mark":{"type":"text","angle":270,"fontSize":13,"color":"#222222"},"encoding":{"text":{"field":"n"}}},
{"data":{"values":[{"e":2015.6,"s":1938.57,"n":"(d)"}]},"mark":{"type":"text","angle":270,"fontSize":20,"color":"#111111"},"encoding":{"text":{"field":"n"}}}
]},
{"encoding":{"x":{"field":"t","type":"quantitative","scale":{"domain":[9,5],"range":[309,463]},"axis":{"orient":"bottom","offset":-710,"values":[5,5.5,6,6.5,7,7.5,8,8.5,9],"format":".0f","labelAngle":180,"labelFontSize":9,"labelBaseline":"bottom","tickSize":4,"title":null}},"y":{"field":"y","type":"quantitative","scale":{"domain":[1945.1,2014.9],"range":[793,593]},"axis":{"orient":"right","offset":-732,"values":[1950,1960,1970,1980,1990,2000,2010],"format":"d","labelAngle":270,"labelFontSize":9.5,"tickSize":4,"title":null}}},
"layer":[
{"data":{"values":[{"t":9,"t2":5,"y":1945.1,"y2":2014.9}]},"mark":{"type":"rect","fill":"white","stroke":"#555555","strokeWidth":1},"encoding":{"x2":{"field":"t2"},"y2":{"field":"y2"}}},
{"data":{"name":"lineb"},"mark":{"type":"line","color":"#333333","strokeWidth":0.8},"encoding":{"order":{"value":null}}},
{"data":{"values":[{"y":1965,"t":6.41},{"y":2012,"t":7.85}]},"mark":{"type":"line","color":"#333333","strokeWidth":0.8},"encoding":{"order":{"value":null}}}
]},
{"encoding":{"x":{"field":"t","type":"quantitative","scale":{"domain":[3,-3],"range":[311,470]},"axis":{"orient":"bottom","offset":-1258,"values":[-3,-2,-1,0,1,2,3],"labelExpr":"replace(format(datum.value,'d'),'−','-')","labelAngle":180,"labelFontSize":9,"labelBaseline":"bottom","tickSize":4,"title":null}},"y":{"field":"y","type":"quantitative","scale":{"domain":[1945.2,2014.8],"range":[245,38]},"axis":{"orient":"right","offset":-725,"values":[1950,1960,1970,1980,1990,2000,2010],"format":"d","labelAngle":270,"labelFontSize":9.5,"tickSize":4,"title":null}}},
"layer":[
{"data":{"values":[{"t":3,"t2":-3,"y":1945.2,"y2":2014.8}]},"mark":{"type":"rect","fill":"white","stroke":"#555555","strokeWidth":1},"encoding":{"x2":{"field":"t2"},"y2":{"field":"y2"}}},
{"data":{"name":"linec"},"mark":{"type":"line","color":"#333333","strokeWidth":0.8},"encoding":{"order":{"value":null}}},
{"data":{"values":[{"y":1965,"t":-0.04},{"y":2012,"t":0.82}]},"mark":{"type":"line","color":"#333333","strokeWidth":0.8},"encoding":{"order":{"value":null}}}
]},
{"encoding":{"x":{"field":"t","type":"quantitative","scale":{"domain":[7,2],"range":[887,1033]},"axis":{"orient":"bottom","offset":-720,"values":[2,3,4,5,6,7],"format":"d","labelAngle":180,"labelFontSize":9,"labelBaseline":"bottom","tickSize":4,"title":null}},"y":{"field":"y","type":"quantitative","scale":{"domain":[1945.5,2015],"range":[783,594]},"axis":{"orient":"right","offset":-162,"values":[1950,1960,1970,1980,1990,2000,2010],"format":"d","labelAngle":270,"labelFontSize":9.5,"tickSize":4,"title":null}}},
"layer":[
{"data":{"values":[{"t":7,"t2":2,"y":1945.5,"y2":2015}]},"mark":{"type":"rect","fill":"white","stroke":"#555555","strokeWidth":1},"encoding":{"x2":{"field":"t2"},"y2":{"field":"y2"}}},
{"data":{"name":"lined"},"mark":{"type":"line","color":"#333333","strokeWidth":0.8},"encoding":{"order":{"value":null}}},
{"data":{"values":[{"y":1965,"t":4.15},{"y":2012,"t":4.88}]},"mark":{"type":"line","color":"#333333","strokeWidth":0.8},"encoding":{"order":{"value":null}}}
]},
{"encoding":{"x":{"field":"t","type":"quantitative","scale":{"domain":[6,2],"range":[886,1032]},"axis":{"orient":"bottom","offset":-1294,"values":[2,2.5,3,3.5,4,4.5,5,5.5,6],"format":".0f","labelAngle":180,"labelFontSize":9,"labelBaseline":"bottom","tickSize":4,"title":null}},"y":{"field":"y","type":"quantitative","scale":{"domain":[1945.2,2015],"range":[209,19]},"axis":{"orient":"right","offset":-163,"values":[1950,1960,1970,1980,1990,2000,2010],"format":"d","labelAngle":270,"labelFontSize":9.5,"tickSize":4,"title":null}}},
"layer":[
{"data":{"values":[{"t":6,"t2":2,"y":1945.2,"y2":2015}]},"mark":{"type":"rect","fill":"white","stroke":"#555555","strokeWidth":1},"encoding":{"x2":{"field":"t2"},"y2":{"field":"y2"}}},
{"data":{"name":"linee"},"mark":{"type":"line","color":"#333333","strokeWidth":0.8},"encoding":{"order":{"value":null}}},
{"data":{"values":[{"y":1965,"t":3.51},{"y":2012,"t":4.29}]},"mark":{"type":"line","color":"#333333","strokeWidth":0.8},"encoding":{"order":{"value":null}}}
]},
{"encoding":{"x":{"field":"mx","type":"quantitative","scale":{"domain":[20,975],"range":[386.7,705]},"axis":null},"y":{"field":"my","type":"quantitative","scale":{"domain":[30,1197],"range":[1110,1499]},"axis":null}},
"layer":[
{"data":{"values":[{"mx":20,"mx2":975,"my":30,"my2":1197}]},"mark":{"type":"rect","fill":"white","stroke":"#8c8c8c","strokeWidth":1.2},"encoding":{"x2":{"field":"mx2"},"y2":{"field":"my2"}}},
{"data":{"name":"map"},"mark":{"type":"line","color":"#333333","strokeWidth":0.8},"encoding":{"detail":{"field":"k"},"order":{"value":null}}},
{"data":{"name":"rings"},"mark":{"type":"point","filled":false,"size":290,"color":"#333333","strokeWidth":0.7,"opacity":1}},
{"data":{"name":"stations"},"mark":{"type":"point","filled":true,"size":24,"color":"#333333","opacity":1}},
{"data":{"name":"counts"},"mark":{"type":"text","angle":270,"fontSize":13,"fontWeight":"bold","color":"#111111"},"encoding":{"text":{"field":"n"}}},
{"data":{"name":"scalebar"},"mark":{"type":"rule","color":"#111111","strokeWidth":1},"encoding":{"x2":{"field":"mx2"},"y2":{"field":"my2"}}},
{"data":{"name":"scalelab"},"mark":{"type":"text","angle":270,"fontSize":8,"color":"#222222"},"encoding":{"text":{"field":"n"}}},
{"data":{"values":[{"mx":922,"my":1147}]},"mark":{"type":"point","filled":false,"size":616,"color":"#333333","strokeWidth":0.8,"opacity":1}},
{"data":{"values":[{"mx":880,"mx2":965,"my":1147,"my2":1147}]},"mark":{"type":"rule","color":"#333333","strokeWidth":0.7},"encoding":{"x2":{"field":"mx2"},"y2":{"field":"my2"}}},
{"data":{"values":[{"mx":925,"my":1147,"n":"N"}]},"mark":{"type":"text","angle":270,"fontSize":6,"color":"#222222"},"encoding":{"text":{"field":"n"}}},
{"data":{"values":[{"mx":-36,"my":741,"n":"T"}]},"mark":{"type":"text","angle":270,"fontSize":15,"fontStyle":"italic","color":"#111111"},"encoding":{"text":{"field":"n"}}},
{"data":{"values":[{"mx":-21,"my":702,"n":"min"}]},"mark":{"type":"text","angle":270,"fontSize":10,"color":"#111111"},"encoding":{"text":{"field":"n"}}},
{"data":{"values":[{"mx":-36,"my":618,"n":"DJF"}]},"mark":{"type":"text","angle":270,"fontSize":15,"color":"#111111"},"encoding":{"text":{"field":"n"}}},
{"data":{"values":[{"mx":-36,"my":1149,"n":"(a)"}]},"mark":{"type":"text","angle":270,"fontSize":20,"color":"#111111"},"encoding":{"text":{"field":"n"}}}
]},
{"encoding":{"x":{"field":"a","type":"quantitative","scale":{"domain":[0,1],"range":[1140.7,1171.7]},"axis":null},"y":{"field":"v","type":"quantitative","scale":{"domain":[-0.1,0.1],"range":[582.7,418.3]},"axis":{"orient":"right","offset":-23.3,"values":[-0.1,-0.05,0,0.05,0.1],"format":".2f","labelAngle":270,"labelFontSize":14,"tickSize":0,"labelPadding":4,"title":null}}},
"layer":[
{"data":{"name":"cb"},"mark":{"type":"rect","height":5.3},"encoding":{"x2":{"field":"a2"},"color":{"field":"v","type":"quantitative","scale":{"scheme":"redyellowblue","reverse":true,"domain":[-0.1,0.1]},"legend":null}}},
{"data":{"values":[{"a":0,"a2":0.2,"v":-0.1},{"a":0.8,"a2":1,"v":-0.1},{"a":0,"a2":0.2,"v":-0.05},{"a":0.8,"a2":1,"v":-0.05},{"a":0,"a2":0.2,"v":0},{"a":0.8,"a2":1,"v":0},{"a":0,"a2":0.2,"v":0.05},{"a":0.8,"a2":1,"v":0.05},{"a":0,"a2":0.2,"v":0.1},{"a":0.8,"a2":1,"v":0.1}]},"mark":{"type":"rule","color":"white","strokeWidth":0.6},"encoding":{"x2":{"field":"a2"}}},
{"data":{"values":[{"a":0.27,"v":-0.184,"n":"Slope"},{"a":0.8,"v":-0.182,"n":"°C year"}]},"mark":{"type":"text","angle":270,"fontSize":14,"color":"#222222"},"encoding":{"text":{"field":"n"}}},
{"data":{"values":[{"a":0.6,"v":-0.144,"n":"−1"}]},"mark":{"type":"text","angle":270,"fontSize":10,"color":"#222222"},"encoding":{"text":{"field":"n"}}}
]}
]}
